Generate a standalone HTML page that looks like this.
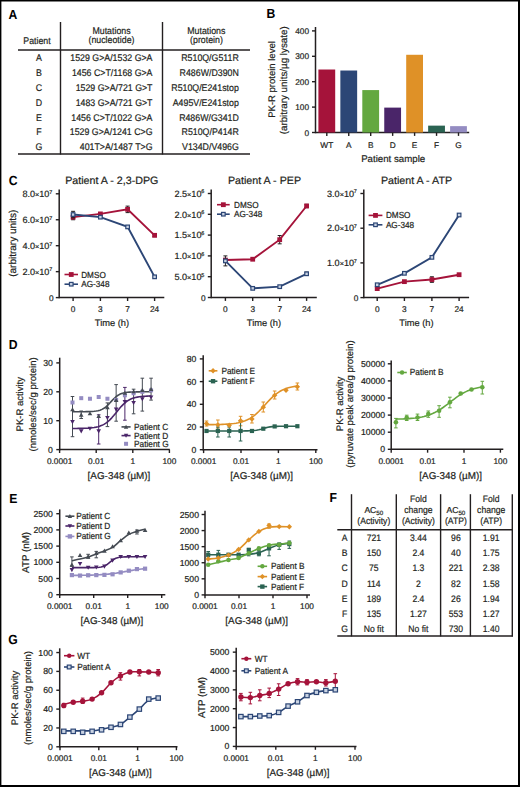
<!DOCTYPE html>
<html><head><meta charset="utf-8"><style>
html,body{margin:0;padding:0;background:#fff;width:520px;height:787px;overflow:hidden}
svg{display:block;font-family:"Liberation Sans", sans-serif}
text{stroke:#231f20;stroke-width:0.2px;paint-order:stroke;text-rendering:geometricPrecision}
</style></head><body>
<svg width="520" height="787" viewBox="0 0 520 787">
<rect x="0" y="0" width="520" height="787" fill="#000"/>
<rect x="1.4" y="1.5" width="516.60" height="783.50" fill="#fff"/>
<text x="8.60" y="18.80" font-size="13.2" font-weight="bold" textLength="8.81" lengthAdjust="spacingAndGlyphs" fill="#000" style="stroke:none">A</text>
<line x1="60.50" y1="22.00" x2="60.50" y2="154.50" stroke="#231f20" stroke-width="1.4"/>
<line x1="162.50" y1="22.00" x2="162.50" y2="154.50" stroke="#231f20" stroke-width="1.4"/>
<line x1="18.00" y1="50.00" x2="250.00" y2="50.00" stroke="#231f20" stroke-width="1.4"/>
<line x1="18.00" y1="154.00" x2="250.00" y2="154.00" stroke="#231f20" stroke-width="1.4"/>
<text x="37.00" y="43.50" font-size="9.68" text-anchor="middle" textLength="27.40" lengthAdjust="spacingAndGlyphs" fill="#231f20" >Patient</text>
<text x="111.50" y="33.80" font-size="9.68" text-anchor="middle" textLength="38.15" lengthAdjust="spacingAndGlyphs" fill="#231f20" >Mutations</text>
<text x="111.50" y="43.30" font-size="9.68" text-anchor="middle" textLength="45.98" lengthAdjust="spacingAndGlyphs" fill="#231f20" >(nucleotide)</text>
<text x="206.30" y="33.80" font-size="9.68" text-anchor="middle" textLength="38.15" lengthAdjust="spacingAndGlyphs" fill="#231f20" >Mutations</text>
<text x="206.50" y="43.30" font-size="9.68" text-anchor="middle" textLength="32.77" lengthAdjust="spacingAndGlyphs" fill="#231f20" >(protein)</text>
<text x="39.00" y="61.20" font-size="9.68" text-anchor="middle" textLength="5.87" lengthAdjust="spacingAndGlyphs" fill="#231f20" >A</text>
<text x="152.50" y="61.20" font-size="9.68" text-anchor="end" textLength="82.20" lengthAdjust="spacingAndGlyphs" fill="#231f20" >1529 G&gt;A/1532 G&gt;A</text>
<text x="238.80" y="61.20" font-size="9.68" text-anchor="end" textLength="57.56" lengthAdjust="spacingAndGlyphs" fill="#231f20" >R510Q/G511R</text>
<text x="39.00" y="76.03" font-size="9.68" text-anchor="middle" textLength="5.87" lengthAdjust="spacingAndGlyphs" fill="#231f20" >B</text>
<text x="152.50" y="76.03" font-size="9.68" text-anchor="end" textLength="80.56" lengthAdjust="spacingAndGlyphs" fill="#231f20" >1456 C&gt;T/1168 G&gt;A</text>
<text x="238.80" y="76.03" font-size="9.68" text-anchor="end" textLength="59.18" lengthAdjust="spacingAndGlyphs" fill="#231f20" >R486W/D390N</text>
<text x="39.00" y="90.86" font-size="9.68" text-anchor="middle" textLength="6.36" lengthAdjust="spacingAndGlyphs" fill="#231f20" >C</text>
<text x="152.50" y="90.86" font-size="9.68" text-anchor="end" textLength="76.81" lengthAdjust="spacingAndGlyphs" fill="#231f20" >1529 G&gt;A/721 G&gt;T</text>
<text x="238.80" y="90.86" font-size="9.68" text-anchor="end" textLength="67.51" lengthAdjust="spacingAndGlyphs" fill="#231f20" >R510Q/E241stop</text>
<text x="39.00" y="105.69" font-size="9.68" text-anchor="middle" textLength="6.36" lengthAdjust="spacingAndGlyphs" fill="#231f20" >D</text>
<text x="152.50" y="105.69" font-size="9.68" text-anchor="end" textLength="76.81" lengthAdjust="spacingAndGlyphs" fill="#231f20" >1483 G&gt;A/721 G&gt;T</text>
<text x="238.80" y="105.69" font-size="9.68" text-anchor="end" textLength="66.05" lengthAdjust="spacingAndGlyphs" fill="#231f20" >A495V/E241stop</text>
<text x="39.00" y="120.52" font-size="9.68" text-anchor="middle" textLength="5.87" lengthAdjust="spacingAndGlyphs" fill="#231f20" >E</text>
<text x="152.50" y="120.52" font-size="9.68" text-anchor="end" textLength="81.21" lengthAdjust="spacingAndGlyphs" fill="#231f20" >1456 C&gt;T/1022 G&gt;A</text>
<text x="238.80" y="120.52" font-size="9.68" text-anchor="end" textLength="59.67" lengthAdjust="spacingAndGlyphs" fill="#231f20" >R486W/G341D</text>
<text x="39.00" y="135.35" font-size="9.68" text-anchor="middle" textLength="5.38" lengthAdjust="spacingAndGlyphs" fill="#231f20" >F</text>
<text x="152.50" y="135.35" font-size="9.68" text-anchor="end" textLength="82.68" lengthAdjust="spacingAndGlyphs" fill="#231f20" >1529 G&gt;A/1241 C&gt;G</text>
<text x="238.80" y="135.35" font-size="9.68" text-anchor="end" textLength="57.24" lengthAdjust="spacingAndGlyphs" fill="#231f20" >R510Q/P414R</text>
<text x="39.00" y="150.18" font-size="9.68" text-anchor="middle" textLength="6.84" lengthAdjust="spacingAndGlyphs" fill="#231f20" >G</text>
<text x="152.50" y="150.18" font-size="9.68" text-anchor="end" textLength="72.73" lengthAdjust="spacingAndGlyphs" fill="#231f20" >401T&gt;A/1487 T&gt;G</text>
<text x="238.80" y="150.18" font-size="9.68" text-anchor="end" textLength="56.75" lengthAdjust="spacingAndGlyphs" fill="#231f20" >V134D/V496G</text>
<text x="266.60" y="18.20" font-size="13.2" font-weight="bold" textLength="8.81" lengthAdjust="spacingAndGlyphs" fill="#000" style="stroke:none">B</text>
<line x1="315.50" y1="27.00" x2="315.50" y2="133.25" stroke="#231f20" stroke-width="1.5"/>
<line x1="312.00" y1="132.50" x2="315.50" y2="132.50" stroke="#231f20" stroke-width="1.4"/>
<text x="309.00" y="135.50" font-size="8.3" text-anchor="end" fill="#231f20" >0</text>
<line x1="312.00" y1="107.10" x2="315.50" y2="107.10" stroke="#231f20" stroke-width="1.4"/>
<text x="309.00" y="110.10" font-size="8.3" text-anchor="end" fill="#231f20" >100</text>
<line x1="312.00" y1="81.70" x2="315.50" y2="81.70" stroke="#231f20" stroke-width="1.4"/>
<text x="309.00" y="84.70" font-size="8.3" text-anchor="end" fill="#231f20" >200</text>
<line x1="312.00" y1="56.30" x2="315.50" y2="56.30" stroke="#231f20" stroke-width="1.4"/>
<text x="309.00" y="59.30" font-size="8.3" text-anchor="end" fill="#231f20" >300</text>
<line x1="312.00" y1="30.90" x2="315.50" y2="30.90" stroke="#231f20" stroke-width="1.4"/>
<text x="309.00" y="33.90" font-size="8.3" text-anchor="end" fill="#231f20" >400</text>
<line x1="315.50" y1="132.50" x2="469.20" y2="132.50" stroke="#231f20" stroke-width="1.5"/>
<rect x="318.40" y="69.51" width="16.80" height="62.99" fill="#a5133a"/>
<line x1="326.80" y1="132.50" x2="326.80" y2="135.90" stroke="#231f20" stroke-width="1.4"/>
<text x="326.80" y="148.20" font-size="8.3" text-anchor="middle" fill="#231f20" >WT</text>
<rect x="340.35" y="70.52" width="16.80" height="61.98" fill="#2c4676"/>
<line x1="348.75" y1="132.50" x2="348.75" y2="135.90" stroke="#231f20" stroke-width="1.4"/>
<text x="348.75" y="148.20" font-size="8.3" text-anchor="middle" fill="#231f20" >A</text>
<rect x="362.30" y="90.08" width="16.80" height="42.42" fill="#64a840"/>
<line x1="370.70" y1="132.50" x2="370.70" y2="135.90" stroke="#231f20" stroke-width="1.4"/>
<text x="370.70" y="148.20" font-size="8.3" text-anchor="middle" fill="#231f20" >B</text>
<rect x="384.25" y="107.61" width="16.80" height="24.89" fill="#4a2569"/>
<line x1="392.65" y1="132.50" x2="392.65" y2="135.90" stroke="#231f20" stroke-width="1.4"/>
<text x="392.65" y="148.20" font-size="8.3" text-anchor="middle" fill="#231f20" >D</text>
<rect x="406.20" y="54.78" width="16.80" height="77.72" fill="#df9127"/>
<line x1="414.60" y1="132.50" x2="414.60" y2="135.90" stroke="#231f20" stroke-width="1.4"/>
<text x="414.60" y="148.20" font-size="8.3" text-anchor="middle" fill="#231f20" >E</text>
<rect x="428.15" y="125.64" width="16.80" height="6.86" fill="#2b6352"/>
<line x1="436.55" y1="132.50" x2="436.55" y2="135.90" stroke="#231f20" stroke-width="1.4"/>
<text x="436.55" y="148.20" font-size="8.3" text-anchor="middle" fill="#231f20" >F</text>
<rect x="450.10" y="126.15" width="16.80" height="6.35" fill="#948cc2"/>
<line x1="458.50" y1="132.50" x2="458.50" y2="135.90" stroke="#231f20" stroke-width="1.4"/>
<text x="458.50" y="148.20" font-size="8.3" text-anchor="middle" fill="#231f20" >G</text>
<text x="393.20" y="161.80" font-size="9.7" text-anchor="middle" fill="#231f20" >Patient sample</text>
<text transform="translate(275.20,79.50) rotate(-90)" font-size="9.5" text-anchor="middle" fill="#231f20">PK-R protein level</text>
<text transform="translate(287.30,80.30) rotate(-90)" font-size="9.8" text-anchor="middle" fill="#231f20">(arbitrary units/µg lysate)</text>
<text x="8.80" y="185.20" font-size="13.2" font-weight="bold" textLength="8.81" lengthAdjust="spacingAndGlyphs" fill="#000" style="stroke:none">C</text>
<line x1="59.20" y1="189.40" x2="59.20" y2="298.35" stroke="#231f20" stroke-width="1.5"/>
<line x1="55.80" y1="297.60" x2="59.20" y2="297.60" stroke="#231f20" stroke-width="1.4"/>
<text x="53.70" y="300.60" font-size="8.3" text-anchor="end" fill="#231f20" >0</text>
<line x1="55.80" y1="271.65" x2="59.20" y2="271.65" stroke="#231f20" stroke-width="1.4"/>
<text x="52.20" y="274.85" font-size="9.1" text-anchor="end" fill="#231f20">2.0<tspan font-size="7.28">×</tspan>10<tspan font-size="5.46" dy="-3.4" dx="-0.3">7</tspan></text>
<line x1="55.80" y1="245.70" x2="59.20" y2="245.70" stroke="#231f20" stroke-width="1.4"/>
<text x="52.20" y="248.90" font-size="9.1" text-anchor="end" fill="#231f20">4.0<tspan font-size="7.28">×</tspan>10<tspan font-size="5.46" dy="-3.4" dx="-0.3">7</tspan></text>
<line x1="55.80" y1="219.75" x2="59.20" y2="219.75" stroke="#231f20" stroke-width="1.4"/>
<text x="52.20" y="222.95" font-size="9.1" text-anchor="end" fill="#231f20">6.0<tspan font-size="7.28">×</tspan>10<tspan font-size="5.46" dy="-3.4" dx="-0.3">7</tspan></text>
<line x1="55.80" y1="193.80" x2="59.20" y2="193.80" stroke="#231f20" stroke-width="1.4"/>
<text x="52.20" y="197.00" font-size="9.1" text-anchor="end" fill="#231f20">8.0<tspan font-size="7.28">×</tspan>10<tspan font-size="5.46" dy="-3.4" dx="-0.3">7</tspan></text>
<line x1="59.20" y1="297.60" x2="164.30" y2="297.60" stroke="#231f20" stroke-width="1.5"/>
<line x1="73.10" y1="297.60" x2="73.10" y2="301.00" stroke="#231f20" stroke-width="1.4"/>
<text x="73.10" y="311.70" font-size="8.3" text-anchor="middle" fill="#231f20" >0</text>
<line x1="100.40" y1="297.60" x2="100.40" y2="301.00" stroke="#231f20" stroke-width="1.4"/>
<text x="100.40" y="311.70" font-size="8.3" text-anchor="middle" fill="#231f20" >3</text>
<line x1="127.60" y1="297.60" x2="127.60" y2="301.00" stroke="#231f20" stroke-width="1.4"/>
<text x="127.60" y="311.70" font-size="8.3" text-anchor="middle" fill="#231f20" >7</text>
<line x1="154.60" y1="297.60" x2="154.60" y2="301.00" stroke="#231f20" stroke-width="1.4"/>
<text x="154.60" y="311.70" font-size="8.3" text-anchor="middle" fill="#231f20" >24</text>
<text x="112.00" y="326.00" font-size="9.3" text-anchor="middle" fill="#231f20" >Time (h)</text>
<text x="111.80" y="183.60" font-size="10.7" text-anchor="middle" fill="#231f20" >Patient A - 2,3-DPG</text>
<text transform="translate(15.90,243.20) rotate(-90)" font-size="10.0" text-anchor="middle" fill="#231f20">(arbitrary units)</text>
<polyline points="73.10,217.16 100.40,213.91 127.60,209.37 154.60,235.32" fill="none" stroke="#a5133a" stroke-width="1.9"/>
<line x1="73.10" y1="214.56" x2="73.10" y2="219.75" stroke="#231f20" stroke-width="1.0"/>
<line x1="71.10" y1="214.56" x2="75.10" y2="214.56" stroke="#231f20" stroke-width="1.0"/>
<line x1="71.10" y1="219.75" x2="75.10" y2="219.75" stroke="#231f20" stroke-width="1.0"/>
<line x1="127.60" y1="206.13" x2="127.60" y2="212.61" stroke="#231f20" stroke-width="1.0"/>
<line x1="125.60" y1="206.13" x2="129.60" y2="206.13" stroke="#231f20" stroke-width="1.0"/>
<line x1="125.60" y1="212.61" x2="129.60" y2="212.61" stroke="#231f20" stroke-width="1.0"/>
<line x1="154.60" y1="234.02" x2="154.60" y2="236.62" stroke="#231f20" stroke-width="1.0"/>
<line x1="152.60" y1="234.02" x2="156.60" y2="234.02" stroke="#231f20" stroke-width="1.0"/>
<line x1="152.60" y1="236.62" x2="156.60" y2="236.62" stroke="#231f20" stroke-width="1.0"/>
<rect x="70.70" y="214.76" width="4.80" height="4.80" fill="#a5133a"/>
<rect x="98.00" y="211.51" width="4.80" height="4.80" fill="#a5133a"/>
<rect x="125.20" y="206.97" width="4.80" height="4.80" fill="#a5133a"/>
<rect x="152.20" y="232.92" width="4.80" height="4.80" fill="#a5133a"/>
<polyline points="73.10,214.56 100.40,217.16 127.60,226.89 154.60,276.84" fill="none" stroke="#2c4676" stroke-width="1.9"/>
<line x1="73.10" y1="211.32" x2="73.10" y2="217.80" stroke="#231f20" stroke-width="1.0"/>
<line x1="71.10" y1="211.32" x2="75.10" y2="211.32" stroke="#231f20" stroke-width="1.0"/>
<line x1="71.10" y1="217.80" x2="75.10" y2="217.80" stroke="#231f20" stroke-width="1.0"/>
<rect x="71.30" y="212.76" width="3.60" height="3.60" fill="#c9d3e3" stroke="#2c4676" stroke-width="1.2"/>
<rect x="98.60" y="215.36" width="3.60" height="3.60" fill="#c9d3e3" stroke="#2c4676" stroke-width="1.2"/>
<rect x="125.80" y="225.09" width="3.60" height="3.60" fill="#c9d3e3" stroke="#2c4676" stroke-width="1.2"/>
<rect x="152.80" y="275.04" width="3.60" height="3.60" fill="#c9d3e3" stroke="#2c4676" stroke-width="1.2"/>
<line x1="64.50" y1="274.50" x2="78.00" y2="274.50" stroke="#a5133a" stroke-width="1.6"/>
<rect x="68.85" y="272.10" width="4.80" height="4.80" fill="#a5133a"/>
<text x="81.20" y="277.50" font-size="8.77" text-anchor="start" textLength="24.60" lengthAdjust="spacingAndGlyphs" fill="#231f20" >DMSO</text>
<line x1="64.50" y1="284.20" x2="78.00" y2="284.20" stroke="#2c4676" stroke-width="1.6"/>
<rect x="69.45" y="282.40" width="3.60" height="3.60" fill="#c9d3e3" stroke="#2c4676" stroke-width="1.2"/>
<text x="81.20" y="287.20" font-size="8.77" text-anchor="start" textLength="28.26" lengthAdjust="spacingAndGlyphs" fill="#231f20" >AG-348</text>
<line x1="211.20" y1="189.40" x2="211.20" y2="298.25" stroke="#231f20" stroke-width="1.5"/>
<line x1="207.80" y1="297.50" x2="211.20" y2="297.50" stroke="#231f20" stroke-width="1.4"/>
<text x="205.70" y="300.50" font-size="8.3" text-anchor="end" fill="#231f20" >0</text>
<line x1="207.80" y1="276.70" x2="211.20" y2="276.70" stroke="#231f20" stroke-width="1.4"/>
<text x="204.20" y="279.90" font-size="9.1" text-anchor="end" fill="#231f20">5.0<tspan font-size="7.28">×</tspan>10<tspan font-size="5.46" dy="-3.4" dx="-0.3">5</tspan></text>
<line x1="207.80" y1="255.90" x2="211.20" y2="255.90" stroke="#231f20" stroke-width="1.4"/>
<text x="204.20" y="259.10" font-size="9.1" text-anchor="end" fill="#231f20">1.0<tspan font-size="7.28">×</tspan>10<tspan font-size="5.46" dy="-3.4" dx="-0.3">6</tspan></text>
<line x1="207.80" y1="235.10" x2="211.20" y2="235.10" stroke="#231f20" stroke-width="1.4"/>
<text x="204.20" y="238.30" font-size="9.1" text-anchor="end" fill="#231f20">1.5<tspan font-size="7.28">×</tspan>10<tspan font-size="5.46" dy="-3.4" dx="-0.3">6</tspan></text>
<line x1="207.80" y1="214.30" x2="211.20" y2="214.30" stroke="#231f20" stroke-width="1.4"/>
<text x="204.20" y="217.50" font-size="9.1" text-anchor="end" fill="#231f20">2.0<tspan font-size="7.28">×</tspan>10<tspan font-size="5.46" dy="-3.4" dx="-0.3">6</tspan></text>
<line x1="207.80" y1="193.50" x2="211.20" y2="193.50" stroke="#231f20" stroke-width="1.4"/>
<text x="204.20" y="196.70" font-size="9.1" text-anchor="end" fill="#231f20">2.5<tspan font-size="7.28">×</tspan>10<tspan font-size="5.46" dy="-3.4" dx="-0.3">6</tspan></text>
<line x1="211.20" y1="297.50" x2="316.80" y2="297.50" stroke="#231f20" stroke-width="1.5"/>
<line x1="225.40" y1="297.50" x2="225.40" y2="300.90" stroke="#231f20" stroke-width="1.4"/>
<text x="225.40" y="311.70" font-size="8.3" text-anchor="middle" fill="#231f20" >0</text>
<line x1="252.70" y1="297.50" x2="252.70" y2="300.90" stroke="#231f20" stroke-width="1.4"/>
<text x="252.70" y="311.70" font-size="8.3" text-anchor="middle" fill="#231f20" >3</text>
<line x1="279.70" y1="297.50" x2="279.70" y2="300.90" stroke="#231f20" stroke-width="1.4"/>
<text x="279.70" y="311.70" font-size="8.3" text-anchor="middle" fill="#231f20" >7</text>
<line x1="306.60" y1="297.50" x2="306.60" y2="300.90" stroke="#231f20" stroke-width="1.4"/>
<text x="306.60" y="311.70" font-size="8.3" text-anchor="middle" fill="#231f20" >24</text>
<text x="264.00" y="326.00" font-size="9.3" text-anchor="middle" fill="#231f20" >Time (h)</text>
<text x="264.50" y="183.60" font-size="10.7" text-anchor="middle" fill="#231f20" >Patient A - PEP</text>
<polyline points="225.40,260.06 252.70,259.23 279.70,239.68 306.60,205.98" fill="none" stroke="#a5133a" stroke-width="1.9"/>
<line x1="279.70" y1="235.52" x2="279.70" y2="243.84" stroke="#231f20" stroke-width="1.0"/>
<line x1="277.70" y1="235.52" x2="281.70" y2="235.52" stroke="#231f20" stroke-width="1.0"/>
<line x1="277.70" y1="243.84" x2="281.70" y2="243.84" stroke="#231f20" stroke-width="1.0"/>
<line x1="306.60" y1="204.32" x2="306.60" y2="207.64" stroke="#231f20" stroke-width="1.0"/>
<line x1="304.60" y1="204.32" x2="308.60" y2="204.32" stroke="#231f20" stroke-width="1.0"/>
<line x1="304.60" y1="207.64" x2="308.60" y2="207.64" stroke="#231f20" stroke-width="1.0"/>
<rect x="223.00" y="257.66" width="4.80" height="4.80" fill="#a5133a"/>
<rect x="250.30" y="256.83" width="4.80" height="4.80" fill="#a5133a"/>
<rect x="277.30" y="237.28" width="4.80" height="4.80" fill="#a5133a"/>
<rect x="304.20" y="203.58" width="4.80" height="4.80" fill="#a5133a"/>
<polyline points="225.40,260.89 252.70,288.35 279.70,286.68 306.60,273.79" fill="none" stroke="#2c4676" stroke-width="1.9"/>
<line x1="225.40" y1="255.90" x2="225.40" y2="265.88" stroke="#231f20" stroke-width="1.0"/>
<line x1="223.40" y1="255.90" x2="227.40" y2="255.90" stroke="#231f20" stroke-width="1.0"/>
<line x1="223.40" y1="265.88" x2="227.40" y2="265.88" stroke="#231f20" stroke-width="1.0"/>
<line x1="306.60" y1="272.12" x2="306.60" y2="275.45" stroke="#231f20" stroke-width="1.0"/>
<line x1="304.60" y1="272.12" x2="308.60" y2="272.12" stroke="#231f20" stroke-width="1.0"/>
<line x1="304.60" y1="275.45" x2="308.60" y2="275.45" stroke="#231f20" stroke-width="1.0"/>
<rect x="223.60" y="259.09" width="3.60" height="3.60" fill="#c9d3e3" stroke="#2c4676" stroke-width="1.2"/>
<rect x="250.90" y="286.55" width="3.60" height="3.60" fill="#c9d3e3" stroke="#2c4676" stroke-width="1.2"/>
<rect x="277.90" y="284.88" width="3.60" height="3.60" fill="#c9d3e3" stroke="#2c4676" stroke-width="1.2"/>
<rect x="304.80" y="271.99" width="3.60" height="3.60" fill="#c9d3e3" stroke="#2c4676" stroke-width="1.2"/>
<line x1="217.00" y1="204.70" x2="229.70" y2="204.70" stroke="#a5133a" stroke-width="1.6"/>
<rect x="220.95" y="202.30" width="4.80" height="4.80" fill="#a5133a"/>
<text x="234.00" y="207.70" font-size="8.77" text-anchor="start" textLength="24.60" lengthAdjust="spacingAndGlyphs" fill="#231f20" >DMSO</text>
<line x1="217.00" y1="214.20" x2="229.70" y2="214.20" stroke="#2c4676" stroke-width="1.6"/>
<rect x="221.55" y="212.40" width="3.60" height="3.60" fill="#c9d3e3" stroke="#2c4676" stroke-width="1.2"/>
<text x="234.00" y="217.20" font-size="8.77" text-anchor="start" textLength="28.26" lengthAdjust="spacingAndGlyphs" fill="#231f20" >AG-348</text>
<line x1="363.80" y1="189.40" x2="363.80" y2="298.35" stroke="#231f20" stroke-width="1.5"/>
<line x1="360.40" y1="297.60" x2="363.80" y2="297.60" stroke="#231f20" stroke-width="1.4"/>
<text x="358.30" y="300.60" font-size="8.3" text-anchor="end" fill="#231f20" >0</text>
<line x1="360.40" y1="262.90" x2="363.80" y2="262.90" stroke="#231f20" stroke-width="1.4"/>
<text x="356.80" y="266.10" font-size="9.1" text-anchor="end" fill="#231f20">1.0<tspan font-size="7.28">×</tspan>10<tspan font-size="5.46" dy="-3.4" dx="-0.3">7</tspan></text>
<line x1="360.40" y1="228.20" x2="363.80" y2="228.20" stroke="#231f20" stroke-width="1.4"/>
<text x="356.80" y="231.40" font-size="9.1" text-anchor="end" fill="#231f20">2.0<tspan font-size="7.28">×</tspan>10<tspan font-size="5.46" dy="-3.4" dx="-0.3">7</tspan></text>
<line x1="360.40" y1="193.50" x2="363.80" y2="193.50" stroke="#231f20" stroke-width="1.4"/>
<text x="356.80" y="196.70" font-size="9.1" text-anchor="end" fill="#231f20">3.0<tspan font-size="7.28">×</tspan>10<tspan font-size="5.46" dy="-3.4" dx="-0.3">7</tspan></text>
<line x1="363.80" y1="297.60" x2="469.10" y2="297.60" stroke="#231f20" stroke-width="1.5"/>
<line x1="377.20" y1="297.60" x2="377.20" y2="301.00" stroke="#231f20" stroke-width="1.4"/>
<text x="377.20" y="311.70" font-size="8.3" text-anchor="middle" fill="#231f20" >0</text>
<line x1="404.40" y1="297.60" x2="404.40" y2="301.00" stroke="#231f20" stroke-width="1.4"/>
<text x="404.40" y="311.70" font-size="8.3" text-anchor="middle" fill="#231f20" >3</text>
<line x1="431.90" y1="297.60" x2="431.90" y2="301.00" stroke="#231f20" stroke-width="1.4"/>
<text x="431.90" y="311.70" font-size="8.3" text-anchor="middle" fill="#231f20" >7</text>
<line x1="459.10" y1="297.60" x2="459.10" y2="301.00" stroke="#231f20" stroke-width="1.4"/>
<text x="459.10" y="311.70" font-size="8.3" text-anchor="middle" fill="#231f20" >24</text>
<text x="416.50" y="326.00" font-size="9.3" text-anchor="middle" fill="#231f20" >Time (h)</text>
<text x="416.50" y="183.60" font-size="10.7" text-anchor="middle" fill="#231f20" >Patient A - ATP</text>
<polyline points="377.20,288.58 404.40,281.64 431.90,279.56 459.10,274.70" fill="none" stroke="#a5133a" stroke-width="1.9"/>
<line x1="377.20" y1="286.84" x2="377.20" y2="290.31" stroke="#231f20" stroke-width="1.0"/>
<line x1="375.20" y1="286.84" x2="379.20" y2="286.84" stroke="#231f20" stroke-width="1.0"/>
<line x1="375.20" y1="290.31" x2="379.20" y2="290.31" stroke="#231f20" stroke-width="1.0"/>
<line x1="431.90" y1="276.78" x2="431.90" y2="282.33" stroke="#231f20" stroke-width="1.0"/>
<line x1="429.90" y1="276.78" x2="433.90" y2="276.78" stroke="#231f20" stroke-width="1.0"/>
<line x1="429.90" y1="282.33" x2="433.90" y2="282.33" stroke="#231f20" stroke-width="1.0"/>
<rect x="374.80" y="286.18" width="4.80" height="4.80" fill="#a5133a"/>
<rect x="402.00" y="279.24" width="4.80" height="4.80" fill="#a5133a"/>
<rect x="429.50" y="277.16" width="4.80" height="4.80" fill="#a5133a"/>
<rect x="456.70" y="272.30" width="4.80" height="4.80" fill="#a5133a"/>
<polyline points="377.20,284.76 404.40,273.31 431.90,257.35 459.10,215.01" fill="none" stroke="#2c4676" stroke-width="1.9"/>
<rect x="375.40" y="282.96" width="3.60" height="3.60" fill="#c9d3e3" stroke="#2c4676" stroke-width="1.2"/>
<rect x="402.60" y="271.51" width="3.60" height="3.60" fill="#c9d3e3" stroke="#2c4676" stroke-width="1.2"/>
<rect x="430.10" y="255.55" width="3.60" height="3.60" fill="#c9d3e3" stroke="#2c4676" stroke-width="1.2"/>
<rect x="457.30" y="213.21" width="3.60" height="3.60" fill="#c9d3e3" stroke="#2c4676" stroke-width="1.2"/>
<line x1="368.60" y1="215.40" x2="382.40" y2="215.40" stroke="#a5133a" stroke-width="1.6"/>
<rect x="373.10" y="213.00" width="4.80" height="4.80" fill="#a5133a"/>
<text x="385.90" y="218.40" font-size="8.77" text-anchor="start" textLength="24.60" lengthAdjust="spacingAndGlyphs" fill="#231f20" >DMSO</text>
<line x1="368.60" y1="224.80" x2="382.40" y2="224.80" stroke="#2c4676" stroke-width="1.6"/>
<rect x="373.70" y="223.00" width="3.60" height="3.60" fill="#c9d3e3" stroke="#2c4676" stroke-width="1.2"/>
<text x="385.90" y="227.80" font-size="8.77" text-anchor="start" textLength="28.26" lengthAdjust="spacingAndGlyphs" fill="#231f20" >AG-348</text>
<text x="8.70" y="349.40" font-size="13.2" font-weight="bold" textLength="8.81" lengthAdjust="spacingAndGlyphs" fill="#000" style="stroke:none">D</text>
<line x1="59.70" y1="357.70" x2="59.70" y2="450.35" stroke="#231f20" stroke-width="1.5"/>
<line x1="56.30" y1="449.60" x2="59.70" y2="449.60" stroke="#231f20" stroke-width="1.4"/>
<text x="52.80" y="452.60" font-size="8.7" text-anchor="end" fill="#231f20" >0</text>
<line x1="56.30" y1="420.70" x2="59.70" y2="420.70" stroke="#231f20" stroke-width="1.4"/>
<text x="52.80" y="423.70" font-size="8.7" text-anchor="end" fill="#231f20" >10</text>
<line x1="56.30" y1="391.80" x2="59.70" y2="391.80" stroke="#231f20" stroke-width="1.4"/>
<text x="52.80" y="394.80" font-size="8.7" text-anchor="end" fill="#231f20" >20</text>
<line x1="56.30" y1="362.90" x2="59.70" y2="362.90" stroke="#231f20" stroke-width="1.4"/>
<text x="52.80" y="365.90" font-size="8.7" text-anchor="end" fill="#231f20" >30</text>
<line x1="59.70" y1="449.60" x2="169.80" y2="449.60" stroke="#231f20" stroke-width="1.5"/>
<line x1="59.60" y1="449.60" x2="59.60" y2="453.00" stroke="#231f20" stroke-width="1.4"/>
<text x="59.60" y="464.20" font-size="8.3" text-anchor="middle" fill="#231f20" >0.0001</text>
<line x1="96.20" y1="449.60" x2="96.20" y2="453.00" stroke="#231f20" stroke-width="1.4"/>
<text x="96.20" y="464.20" font-size="8.3" text-anchor="middle" fill="#231f20" >0.01</text>
<line x1="132.80" y1="449.60" x2="132.80" y2="453.00" stroke="#231f20" stroke-width="1.4"/>
<text x="132.80" y="464.20" font-size="8.3" text-anchor="middle" fill="#231f20" >1</text>
<line x1="169.40" y1="449.60" x2="169.40" y2="453.00" stroke="#231f20" stroke-width="1.4"/>
<text x="169.40" y="464.20" font-size="8.3" text-anchor="middle" fill="#231f20" >100</text>
<text x="119.00" y="478.60" font-size="9.9" text-anchor="middle" fill="#231f20" >[AG-348 (µM)]</text>
<text transform="translate(23.20,404.20) rotate(-90)" font-size="9.5" text-anchor="middle" fill="#231f20">PK-R activity</text>
<text transform="translate(36.20,404.40) rotate(-90)" font-size="9.5" text-anchor="middle" fill="#231f20">(nmoles/sec/g protein)</text>
<line x1="72.50" y1="396.50" x2="72.50" y2="436.70" stroke="#454b53" stroke-width="1.0"/>
<line x1="70.70" y1="396.50" x2="74.30" y2="396.50" stroke="#454b53" stroke-width="1.0"/>
<line x1="70.70" y1="436.70" x2="74.30" y2="436.70" stroke="#454b53" stroke-width="1.0"/>
<line x1="81.23" y1="411.00" x2="81.23" y2="418.50" stroke="#454b53" stroke-width="1.0"/>
<line x1="79.43" y1="411.00" x2="83.03" y2="411.00" stroke="#454b53" stroke-width="1.0"/>
<line x1="79.43" y1="418.50" x2="83.03" y2="418.50" stroke="#454b53" stroke-width="1.0"/>
<line x1="98.69" y1="414.80" x2="98.69" y2="444.00" stroke="#4a2569" stroke-width="1.0"/>
<line x1="96.89" y1="414.80" x2="100.49" y2="414.80" stroke="#4a2569" stroke-width="1.0"/>
<line x1="96.89" y1="444.00" x2="100.49" y2="444.00" stroke="#4a2569" stroke-width="1.0"/>
<line x1="107.42" y1="402.90" x2="107.42" y2="426.60" stroke="#454b53" stroke-width="1.0"/>
<line x1="105.62" y1="402.90" x2="109.22" y2="402.90" stroke="#454b53" stroke-width="1.0"/>
<line x1="105.62" y1="426.60" x2="109.22" y2="426.60" stroke="#454b53" stroke-width="1.0"/>
<line x1="116.15" y1="384.60" x2="116.15" y2="421.20" stroke="#454b53" stroke-width="1.0"/>
<line x1="114.35" y1="384.60" x2="117.95" y2="384.60" stroke="#454b53" stroke-width="1.0"/>
<line x1="114.35" y1="421.20" x2="117.95" y2="421.20" stroke="#454b53" stroke-width="1.0"/>
<line x1="124.88" y1="387.40" x2="124.88" y2="420.20" stroke="#4a2569" stroke-width="1.0"/>
<line x1="123.08" y1="387.40" x2="126.68" y2="387.40" stroke="#4a2569" stroke-width="1.0"/>
<line x1="123.08" y1="420.20" x2="126.68" y2="420.20" stroke="#4a2569" stroke-width="1.0"/>
<line x1="133.61" y1="389.20" x2="133.61" y2="413.80" stroke="#454b53" stroke-width="1.0"/>
<line x1="131.81" y1="389.20" x2="135.41" y2="389.20" stroke="#454b53" stroke-width="1.0"/>
<line x1="131.81" y1="413.80" x2="135.41" y2="413.80" stroke="#454b53" stroke-width="1.0"/>
<line x1="142.34" y1="378.20" x2="142.34" y2="411.10" stroke="#454b53" stroke-width="1.0"/>
<line x1="140.54" y1="378.20" x2="144.14" y2="378.20" stroke="#454b53" stroke-width="1.0"/>
<line x1="140.54" y1="411.10" x2="144.14" y2="411.10" stroke="#454b53" stroke-width="1.0"/>
<line x1="151.07" y1="378.20" x2="151.07" y2="400.10" stroke="#454b53" stroke-width="1.0"/>
<line x1="149.27" y1="378.20" x2="152.87" y2="378.20" stroke="#454b53" stroke-width="1.0"/>
<line x1="149.27" y1="400.10" x2="152.87" y2="400.10" stroke="#454b53" stroke-width="1.0"/>
<polyline points="72.50,411.74 74.46,411.74 76.43,411.73 78.39,411.73 80.36,411.72 82.32,411.71 84.29,411.69 86.25,411.66 88.21,411.62 90.18,411.55 92.14,411.44 94.11,411.28 96.07,411.04 98.04,410.68 100.00,410.15 101.96,409.38 103.93,408.31 105.89,406.89 107.86,405.12 109.82,403.07 111.78,400.90 113.75,398.82 115.71,396.98 117.68,395.49 119.64,394.35 121.61,393.53 123.57,392.95 125.53,392.56 127.50,392.30 129.46,392.12 131.43,392.01 133.39,391.94 135.36,391.89 137.32,391.86 139.28,391.84 141.25,391.82 143.21,391.82 145.18,391.81 147.14,391.81 149.11,391.80 151.07,391.80" fill="none" stroke="#454b53" stroke-width="1.6" stroke-linejoin="round"/>
<polyline points="72.50,428.47 74.46,428.45 76.43,428.43 78.39,428.41 80.36,428.38 82.32,428.33 84.29,428.27 86.25,428.19 88.21,428.09 90.18,427.94 92.14,427.75 94.11,427.49 96.07,427.15 98.04,426.70 100.00,426.11 101.96,425.35 103.93,424.38 105.89,423.16 107.86,421.67 109.82,419.90 111.78,417.85 113.75,415.58 115.71,413.16 117.68,410.70 119.64,408.30 121.61,406.07 123.57,404.08 125.53,402.36 127.50,400.92 129.46,399.76 131.43,398.83 133.39,398.11 135.36,397.55 137.32,397.12 139.28,396.80 141.25,396.56 143.21,396.37 145.18,396.24 147.14,396.14 149.11,396.06 151.07,396.01" fill="none" stroke="#4a2569" stroke-width="1.6" stroke-linejoin="round"/>
<rect x="70.50" y="400.49" width="4.00" height="4.00" fill="#948cc2"/>
<rect x="79.23" y="396.16" width="4.00" height="4.00" fill="#948cc2"/>
<rect x="87.96" y="396.74" width="4.00" height="4.00" fill="#948cc2"/>
<rect x="96.69" y="395.00" width="4.00" height="4.00" fill="#948cc2"/>
<rect x="105.42" y="396.74" width="4.00" height="4.00" fill="#948cc2"/>
<rect x="114.15" y="397.89" width="4.00" height="4.00" fill="#948cc2"/>
<rect x="122.88" y="393.27" width="4.00" height="4.00" fill="#948cc2"/>
<rect x="131.61" y="391.25" width="4.00" height="4.00" fill="#948cc2"/>
<rect x="140.34" y="389.80" width="4.00" height="4.00" fill="#948cc2"/>
<rect x="149.07" y="388.36" width="4.00" height="4.00" fill="#948cc2"/>
<path d="M72.50,407.13 L74.80,411.27 L70.20,411.27 Z" fill="#454b53"/>
<path d="M81.23,412.62 L83.53,416.76 L78.93,416.76 Z" fill="#454b53"/>
<path d="M89.96,411.18 L92.26,415.31 L87.66,415.31 Z" fill="#454b53"/>
<path d="M98.69,413.78 L100.99,417.92 L96.39,417.92 Z" fill="#454b53"/>
<path d="M107.42,405.11 L109.72,409.25 L105.12,409.25 Z" fill="#454b53"/>
<path d="M116.15,397.88 L118.45,402.02 L113.85,402.02 Z" fill="#454b53"/>
<path d="M124.88,390.66 L127.18,394.80 L122.58,394.80 Z" fill="#454b53"/>
<path d="M133.61,389.21 L135.91,393.35 L131.31,393.35 Z" fill="#454b53"/>
<path d="M142.34,387.77 L144.64,391.91 L140.04,391.91 Z" fill="#454b53"/>
<path d="M151.07,386.90 L153.37,391.04 L148.77,391.04 Z" fill="#454b53"/>
<path d="M72.50,424.16 L74.80,420.02 L70.20,420.02 Z" fill="#4a2569"/>
<path d="M81.23,433.40 L83.53,429.26 L78.93,429.26 Z" fill="#4a2569"/>
<path d="M89.96,430.80 L92.26,426.66 L87.66,426.66 Z" fill="#4a2569"/>
<path d="M98.69,433.40 L100.99,429.26 L96.39,429.26 Z" fill="#4a2569"/>
<path d="M107.42,420.11 L109.72,415.97 L105.12,415.97 Z" fill="#4a2569"/>
<path d="M116.15,411.73 L118.45,407.59 L113.85,407.59 Z" fill="#4a2569"/>
<path d="M124.88,404.22 L127.18,400.08 L122.58,400.08 Z" fill="#4a2569"/>
<path d="M133.61,405.08 L135.91,400.94 L131.31,400.94 Z" fill="#4a2569"/>
<path d="M142.34,401.33 L144.64,397.19 L140.04,397.19 Z" fill="#4a2569"/>
<path d="M151.07,399.59 L153.37,395.45 L148.77,395.45 Z" fill="#4a2569"/>
<line x1="121.50" y1="426.90" x2="130.60" y2="426.90" stroke="#454b53" stroke-width="1.6"/>
<path d="M126.05,424.70 L128.25,428.66 L123.85,428.66 Z" fill="#454b53"/>
<text x="134.00" y="429.80" font-size="8.88" text-anchor="start" textLength="34.14" lengthAdjust="spacingAndGlyphs" fill="#231f20" >Patient C</text>
<line x1="121.50" y1="435.60" x2="130.60" y2="435.60" stroke="#4a2569" stroke-width="1.6"/>
<path d="M126.05,437.80 L128.25,433.84 L123.85,433.84 Z" fill="#4a2569"/>
<text x="134.00" y="438.50" font-size="8.88" text-anchor="start" textLength="34.14" lengthAdjust="spacingAndGlyphs" fill="#231f20" >Patient D</text>
<rect x="124.05" y="441.80" width="4.00" height="4.00" fill="#948cc2"/>
<text x="134.00" y="446.70" font-size="8.88" text-anchor="start" textLength="34.60" lengthAdjust="spacingAndGlyphs" fill="#231f20" >Patient G</text>
<line x1="203.20" y1="355.20" x2="203.20" y2="450.45" stroke="#231f20" stroke-width="1.5"/>
<line x1="199.80" y1="449.70" x2="203.20" y2="449.70" stroke="#231f20" stroke-width="1.4"/>
<text x="196.30" y="452.70" font-size="8.7" text-anchor="end" fill="#231f20" >0</text>
<line x1="199.80" y1="427.00" x2="203.20" y2="427.00" stroke="#231f20" stroke-width="1.4"/>
<text x="196.30" y="430.00" font-size="8.7" text-anchor="end" fill="#231f20" >20</text>
<line x1="199.80" y1="404.30" x2="203.20" y2="404.30" stroke="#231f20" stroke-width="1.4"/>
<text x="196.30" y="407.30" font-size="8.7" text-anchor="end" fill="#231f20" >40</text>
<line x1="199.80" y1="381.60" x2="203.20" y2="381.60" stroke="#231f20" stroke-width="1.4"/>
<text x="196.30" y="384.60" font-size="8.7" text-anchor="end" fill="#231f20" >60</text>
<line x1="199.80" y1="358.90" x2="203.20" y2="358.90" stroke="#231f20" stroke-width="1.4"/>
<text x="196.30" y="361.90" font-size="8.7" text-anchor="end" fill="#231f20" >80</text>
<line x1="203.20" y1="449.70" x2="317.50" y2="449.70" stroke="#231f20" stroke-width="1.5"/>
<line x1="203.60" y1="449.70" x2="203.60" y2="453.10" stroke="#231f20" stroke-width="1.4"/>
<text x="203.60" y="464.30" font-size="8.3" text-anchor="middle" fill="#231f20" >0.0001</text>
<line x1="241.00" y1="449.70" x2="241.00" y2="453.10" stroke="#231f20" stroke-width="1.4"/>
<text x="241.00" y="464.30" font-size="8.3" text-anchor="middle" fill="#231f20" >0.01</text>
<line x1="278.40" y1="449.70" x2="278.40" y2="453.10" stroke="#231f20" stroke-width="1.4"/>
<text x="278.40" y="464.30" font-size="8.3" text-anchor="middle" fill="#231f20" >1</text>
<line x1="315.80" y1="449.70" x2="315.80" y2="453.10" stroke="#231f20" stroke-width="1.4"/>
<text x="315.80" y="464.30" font-size="8.3" text-anchor="middle" fill="#231f20" >100</text>
<text x="261.70" y="478.60" font-size="9.9" text-anchor="middle" fill="#231f20" >[AG-348 (µM)]</text>
<line x1="206.50" y1="421.00" x2="206.50" y2="426.00" stroke="#df9127" stroke-width="1.0"/>
<line x1="204.70" y1="421.00" x2="208.30" y2="421.00" stroke="#df9127" stroke-width="1.0"/>
<line x1="204.70" y1="426.00" x2="208.30" y2="426.00" stroke="#df9127" stroke-width="1.0"/>
<line x1="217.86" y1="420.00" x2="217.86" y2="428.00" stroke="#df9127" stroke-width="1.0"/>
<line x1="216.06" y1="420.00" x2="219.66" y2="420.00" stroke="#df9127" stroke-width="1.0"/>
<line x1="216.06" y1="428.00" x2="219.66" y2="428.00" stroke="#df9127" stroke-width="1.0"/>
<line x1="240.58" y1="416.30" x2="240.58" y2="425.80" stroke="#df9127" stroke-width="1.0"/>
<line x1="238.78" y1="416.30" x2="242.38" y2="416.30" stroke="#df9127" stroke-width="1.0"/>
<line x1="238.78" y1="425.80" x2="242.38" y2="425.80" stroke="#df9127" stroke-width="1.0"/>
<line x1="251.94" y1="414.50" x2="251.94" y2="423.00" stroke="#df9127" stroke-width="1.0"/>
<line x1="250.14" y1="414.50" x2="253.74" y2="414.50" stroke="#df9127" stroke-width="1.0"/>
<line x1="250.14" y1="423.00" x2="253.74" y2="423.00" stroke="#df9127" stroke-width="1.0"/>
<line x1="263.30" y1="402.00" x2="263.30" y2="412.00" stroke="#df9127" stroke-width="1.0"/>
<line x1="261.50" y1="402.00" x2="265.10" y2="402.00" stroke="#df9127" stroke-width="1.0"/>
<line x1="261.50" y1="412.00" x2="265.10" y2="412.00" stroke="#df9127" stroke-width="1.0"/>
<line x1="274.66" y1="391.00" x2="274.66" y2="399.00" stroke="#df9127" stroke-width="1.0"/>
<line x1="272.86" y1="391.00" x2="276.46" y2="391.00" stroke="#df9127" stroke-width="1.0"/>
<line x1="272.86" y1="399.00" x2="276.46" y2="399.00" stroke="#df9127" stroke-width="1.0"/>
<line x1="297.38" y1="383.00" x2="297.38" y2="390.00" stroke="#df9127" stroke-width="1.0"/>
<line x1="295.58" y1="383.00" x2="299.18" y2="383.00" stroke="#df9127" stroke-width="1.0"/>
<line x1="295.58" y1="390.00" x2="299.18" y2="390.00" stroke="#df9127" stroke-width="1.0"/>
<line x1="217.86" y1="427.00" x2="217.86" y2="437.00" stroke="#2b6352" stroke-width="1.0"/>
<line x1="216.06" y1="427.00" x2="219.66" y2="427.00" stroke="#2b6352" stroke-width="1.0"/>
<line x1="216.06" y1="437.00" x2="219.66" y2="437.00" stroke="#2b6352" stroke-width="1.0"/>
<line x1="229.22" y1="427.00" x2="229.22" y2="437.00" stroke="#2b6352" stroke-width="1.0"/>
<line x1="227.42" y1="427.00" x2="231.02" y2="427.00" stroke="#2b6352" stroke-width="1.0"/>
<line x1="227.42" y1="437.00" x2="231.02" y2="437.00" stroke="#2b6352" stroke-width="1.0"/>
<line x1="240.58" y1="421.00" x2="240.58" y2="441.00" stroke="#2b6352" stroke-width="1.0"/>
<line x1="238.78" y1="421.00" x2="242.38" y2="421.00" stroke="#2b6352" stroke-width="1.0"/>
<line x1="238.78" y1="441.00" x2="242.38" y2="441.00" stroke="#2b6352" stroke-width="1.0"/>
<polyline points="206.50,424.67 208.77,424.65 211.04,424.63 213.32,424.60 215.59,424.57 217.86,424.52 220.13,424.46 222.40,424.38 224.68,424.29 226.95,424.16 229.22,424.00 231.49,423.79 233.76,423.53 236.04,423.20 238.31,422.78 240.58,422.26 242.85,421.61 245.12,420.80 247.40,419.81 249.67,418.61 251.94,417.19 254.21,415.53 256.48,413.62 258.76,411.49 261.03,409.18 263.30,406.74 265.57,404.24 267.84,401.76 270.12,399.37 272.39,397.14 274.66,395.13 276.93,393.34 279.20,391.80 281.48,390.49 283.75,389.40 286.02,388.51 288.29,387.78 290.56,387.20 292.84,386.73 295.11,386.36 297.38,386.06" fill="none" stroke="#df9127" stroke-width="1.6" stroke-linejoin="round"/>
<polyline points="206.50,430.97 208.77,430.97 211.04,430.97 213.32,430.97 215.59,430.97 217.86,430.97 220.13,430.97 222.40,430.97 224.68,430.97 226.95,430.97 229.22,430.97 231.49,430.97 233.76,430.97 236.04,430.97 238.31,430.96 240.58,430.96 242.85,430.94 245.12,430.92 247.40,430.88 249.67,430.81 251.94,430.69 254.21,430.50 256.48,430.19 258.76,429.75 261.03,429.16 263.30,428.50 265.57,427.85 267.84,427.30 270.12,426.89 272.39,426.62 274.66,426.45 276.93,426.35 279.20,426.29 281.48,426.25 283.75,426.23 286.02,426.22 288.29,426.21 290.56,426.21 292.84,426.21 295.11,426.21 297.38,426.21" fill="none" stroke="#2b6352" stroke-width="1.6" stroke-linejoin="round"/>
<path d="M206.50,420.89 L209.20,423.59 L206.50,426.29 L203.80,423.59 Z" fill="#df9127"/>
<path d="M217.86,422.14 L220.56,424.84 L217.86,427.54 L215.16,424.84 Z" fill="#df9127"/>
<path d="M229.22,422.60 L231.92,425.30 L229.22,428.00 L226.52,425.30 Z" fill="#df9127"/>
<path d="M240.58,417.94 L243.28,420.64 L240.58,423.34 L237.88,420.64 Z" fill="#df9127"/>
<path d="M251.94,416.24 L254.64,418.94 L251.94,421.64 L249.24,418.94 Z" fill="#df9127"/>
<path d="M263.30,404.44 L266.00,407.14 L263.30,409.84 L260.60,407.14 Z" fill="#df9127"/>
<path d="M274.66,392.63 L277.36,395.33 L274.66,398.03 L271.96,395.33 Z" fill="#df9127"/>
<path d="M286.02,387.53 L288.72,390.23 L286.02,392.93 L283.32,390.23 Z" fill="#df9127"/>
<path d="M297.38,384.01 L300.08,386.71 L297.38,389.41 L294.68,386.71 Z" fill="#df9127"/>
<rect x="204.40" y="428.87" width="4.20" height="4.20" fill="#2b6352"/>
<rect x="215.76" y="428.87" width="4.20" height="4.20" fill="#2b6352"/>
<rect x="227.12" y="428.87" width="4.20" height="4.20" fill="#2b6352"/>
<rect x="238.48" y="428.87" width="4.20" height="4.20" fill="#2b6352"/>
<rect x="249.84" y="428.87" width="4.20" height="4.20" fill="#2b6352"/>
<rect x="261.20" y="426.60" width="4.20" height="4.20" fill="#2b6352"/>
<rect x="272.56" y="424.33" width="4.20" height="4.20" fill="#2b6352"/>
<rect x="283.92" y="424.11" width="4.20" height="4.20" fill="#2b6352"/>
<rect x="295.28" y="424.11" width="4.20" height="4.20" fill="#2b6352"/>
<line x1="208.70" y1="370.80" x2="217.40" y2="370.80" stroke="#df9127" stroke-width="1.6"/>
<path d="M213.05,368.10 L215.75,370.80 L213.05,373.50 L210.35,370.80 Z" fill="#df9127"/>
<text x="221.40" y="373.70" font-size="8.88" text-anchor="start" textLength="33.68" lengthAdjust="spacingAndGlyphs" fill="#231f20" >Patient E</text>
<line x1="208.70" y1="381.20" x2="217.40" y2="381.20" stroke="#2b6352" stroke-width="1.6"/>
<rect x="210.85" y="379.00" width="4.40" height="4.40" fill="#2b6352"/>
<text x="221.40" y="384.10" font-size="8.88" text-anchor="start" textLength="33.22" lengthAdjust="spacingAndGlyphs" fill="#231f20" >Patient F</text>
<line x1="391.20" y1="360.40" x2="391.20" y2="450.05" stroke="#231f20" stroke-width="1.5"/>
<line x1="387.80" y1="449.30" x2="391.20" y2="449.30" stroke="#231f20" stroke-width="1.4"/>
<text x="385.20" y="452.30" font-size="8.7" text-anchor="end" fill="#231f20" >0</text>
<line x1="387.80" y1="432.20" x2="391.20" y2="432.20" stroke="#231f20" stroke-width="1.4"/>
<text x="385.20" y="435.20" font-size="8.7" text-anchor="end" fill="#231f20" >10000</text>
<line x1="387.80" y1="415.10" x2="391.20" y2="415.10" stroke="#231f20" stroke-width="1.4"/>
<text x="385.20" y="418.10" font-size="8.7" text-anchor="end" fill="#231f20" >20000</text>
<line x1="387.80" y1="398.00" x2="391.20" y2="398.00" stroke="#231f20" stroke-width="1.4"/>
<text x="385.20" y="401.00" font-size="8.7" text-anchor="end" fill="#231f20" >30000</text>
<line x1="387.80" y1="380.90" x2="391.20" y2="380.90" stroke="#231f20" stroke-width="1.4"/>
<text x="385.20" y="383.90" font-size="8.7" text-anchor="end" fill="#231f20" >40000</text>
<line x1="387.80" y1="363.80" x2="391.20" y2="363.80" stroke="#231f20" stroke-width="1.4"/>
<text x="385.20" y="366.80" font-size="8.7" text-anchor="end" fill="#231f20" >50000</text>
<line x1="391.20" y1="449.30" x2="503.30" y2="449.30" stroke="#231f20" stroke-width="1.5"/>
<line x1="391.20" y1="449.30" x2="391.20" y2="452.70" stroke="#231f20" stroke-width="1.4"/>
<text x="391.20" y="463.90" font-size="8.3" text-anchor="middle" fill="#231f20" >0.0001</text>
<line x1="427.60" y1="449.30" x2="427.60" y2="452.70" stroke="#231f20" stroke-width="1.4"/>
<text x="427.60" y="463.90" font-size="8.3" text-anchor="middle" fill="#231f20" >0.01</text>
<line x1="464.00" y1="449.30" x2="464.00" y2="452.70" stroke="#231f20" stroke-width="1.4"/>
<text x="464.00" y="463.90" font-size="8.3" text-anchor="middle" fill="#231f20" >1</text>
<line x1="500.40" y1="449.30" x2="500.40" y2="452.70" stroke="#231f20" stroke-width="1.4"/>
<text x="500.40" y="463.90" font-size="8.3" text-anchor="middle" fill="#231f20" >100</text>
<text x="450.70" y="478.60" font-size="9.9" text-anchor="middle" fill="#231f20" >[AG-348 (µM)]</text>
<text transform="translate(343.20,404.00) rotate(-90)" font-size="9.5" text-anchor="middle" fill="#231f20">PK-R activity</text>
<text transform="translate(353.00,404.00) rotate(-90)" font-size="9.5" text-anchor="middle" fill="#231f20">(pyruvate peak area/g protein)</text>
<line x1="395.90" y1="418.40" x2="395.90" y2="427.90" stroke="#64a840" stroke-width="1.0"/>
<line x1="394.10" y1="418.40" x2="397.70" y2="418.40" stroke="#64a840" stroke-width="1.0"/>
<line x1="394.10" y1="427.90" x2="397.70" y2="427.90" stroke="#64a840" stroke-width="1.0"/>
<line x1="406.70" y1="415.20" x2="406.70" y2="420.50" stroke="#64a840" stroke-width="1.0"/>
<line x1="404.90" y1="415.20" x2="408.50" y2="415.20" stroke="#64a840" stroke-width="1.0"/>
<line x1="404.90" y1="420.50" x2="408.50" y2="420.50" stroke="#64a840" stroke-width="1.0"/>
<line x1="417.50" y1="414.10" x2="417.50" y2="420.50" stroke="#64a840" stroke-width="1.0"/>
<line x1="415.70" y1="414.10" x2="419.30" y2="414.10" stroke="#64a840" stroke-width="1.0"/>
<line x1="415.70" y1="420.50" x2="419.30" y2="420.50" stroke="#64a840" stroke-width="1.0"/>
<line x1="428.30" y1="411.00" x2="428.30" y2="417.30" stroke="#64a840" stroke-width="1.0"/>
<line x1="426.50" y1="411.00" x2="430.10" y2="411.00" stroke="#64a840" stroke-width="1.0"/>
<line x1="426.50" y1="417.30" x2="430.10" y2="417.30" stroke="#64a840" stroke-width="1.0"/>
<line x1="439.10" y1="405.70" x2="439.10" y2="417.30" stroke="#64a840" stroke-width="1.0"/>
<line x1="437.30" y1="405.70" x2="440.90" y2="405.70" stroke="#64a840" stroke-width="1.0"/>
<line x1="437.30" y1="417.30" x2="440.90" y2="417.30" stroke="#64a840" stroke-width="1.0"/>
<line x1="449.90" y1="397.20" x2="449.90" y2="407.80" stroke="#64a840" stroke-width="1.0"/>
<line x1="448.10" y1="397.20" x2="451.70" y2="397.20" stroke="#64a840" stroke-width="1.0"/>
<line x1="448.10" y1="407.80" x2="451.70" y2="407.80" stroke="#64a840" stroke-width="1.0"/>
<line x1="482.30" y1="381.30" x2="482.30" y2="394.00" stroke="#64a840" stroke-width="1.0"/>
<line x1="480.50" y1="381.30" x2="484.10" y2="381.30" stroke="#64a840" stroke-width="1.0"/>
<line x1="480.50" y1="394.00" x2="484.10" y2="394.00" stroke="#64a840" stroke-width="1.0"/>
<polyline points="395.90,419.13 398.06,419.07 400.22,419.01 402.38,418.93 404.54,418.84 406.70,418.72 408.86,418.58 411.02,418.41 413.18,418.21 415.34,417.97 417.50,417.68 419.66,417.34 421.82,416.93 423.98,416.44 426.14,415.87 428.30,415.20 430.46,414.42 432.62,413.53 434.78,412.52 436.94,411.38 439.10,410.12 441.26,408.73 443.42,407.24 445.58,405.67 447.74,404.03 449.90,402.35 452.06,400.68 454.22,399.03 456.38,397.45 458.54,395.95 460.70,394.56 462.86,393.28 465.02,392.13 467.18,391.10 469.34,390.20 471.50,389.42 473.66,388.74 475.82,388.16 477.98,387.67 480.14,387.25 482.30,386.90" fill="none" stroke="#64a840" stroke-width="1.6" stroke-linejoin="round"/>
<circle cx="395.90" cy="422.28" r="2.30" fill="#64a840"/>
<circle cx="406.70" cy="417.84" r="2.30" fill="#64a840"/>
<circle cx="417.50" cy="417.49" r="2.30" fill="#64a840"/>
<circle cx="428.30" cy="414.07" r="2.30" fill="#64a840"/>
<circle cx="439.10" cy="410.82" r="2.30" fill="#64a840"/>
<circle cx="449.90" cy="402.27" r="2.30" fill="#64a840"/>
<circle cx="460.70" cy="393.55" r="2.30" fill="#64a840"/>
<circle cx="471.50" cy="389.45" r="2.30" fill="#64a840"/>
<circle cx="482.30" cy="387.23" r="2.30" fill="#64a840"/>
<line x1="397.30" y1="372.50" x2="406.80" y2="372.50" stroke="#64a840" stroke-width="1.6"/>
<circle cx="402.05" cy="372.50" r="2.20" fill="#64a840"/>
<text x="409.80" y="375.40" font-size="8.88" text-anchor="start" textLength="33.68" lengthAdjust="spacingAndGlyphs" fill="#231f20" >Patient B</text>
<text x="9.30" y="502.50" font-size="13.2" font-weight="bold" textLength="8.14" lengthAdjust="spacingAndGlyphs" fill="#000" style="stroke:none">E</text>
<line x1="59.70" y1="509.40" x2="59.70" y2="595.45" stroke="#231f20" stroke-width="1.5"/>
<line x1="56.30" y1="594.70" x2="59.70" y2="594.70" stroke="#231f20" stroke-width="1.4"/>
<text x="52.80" y="597.70" font-size="8.7" text-anchor="end" fill="#231f20" >0</text>
<line x1="56.30" y1="578.50" x2="59.70" y2="578.50" stroke="#231f20" stroke-width="1.4"/>
<text x="52.80" y="581.50" font-size="8.7" text-anchor="end" fill="#231f20" >500</text>
<line x1="56.30" y1="562.30" x2="59.70" y2="562.30" stroke="#231f20" stroke-width="1.4"/>
<text x="52.80" y="565.30" font-size="8.7" text-anchor="end" fill="#231f20" >1000</text>
<line x1="56.30" y1="546.10" x2="59.70" y2="546.10" stroke="#231f20" stroke-width="1.4"/>
<text x="52.80" y="549.10" font-size="8.7" text-anchor="end" fill="#231f20" >1500</text>
<line x1="56.30" y1="529.90" x2="59.70" y2="529.90" stroke="#231f20" stroke-width="1.4"/>
<text x="52.80" y="532.90" font-size="8.7" text-anchor="end" fill="#231f20" >2000</text>
<line x1="56.30" y1="513.70" x2="59.70" y2="513.70" stroke="#231f20" stroke-width="1.4"/>
<text x="52.80" y="516.70" font-size="8.7" text-anchor="end" fill="#231f20" >2500</text>
<line x1="59.70" y1="594.70" x2="165.30" y2="594.70" stroke="#231f20" stroke-width="1.5"/>
<line x1="59.70" y1="594.70" x2="59.70" y2="598.10" stroke="#231f20" stroke-width="1.4"/>
<text x="59.70" y="609.20" font-size="8.3" text-anchor="middle" fill="#231f20" >0.0001</text>
<line x1="93.70" y1="594.70" x2="93.70" y2="598.10" stroke="#231f20" stroke-width="1.4"/>
<text x="93.70" y="609.20" font-size="8.3" text-anchor="middle" fill="#231f20" >0.01</text>
<line x1="127.70" y1="594.70" x2="127.70" y2="598.10" stroke="#231f20" stroke-width="1.4"/>
<text x="127.70" y="609.20" font-size="8.3" text-anchor="middle" fill="#231f20" >1</text>
<line x1="161.70" y1="594.70" x2="161.70" y2="598.10" stroke="#231f20" stroke-width="1.4"/>
<text x="161.70" y="609.20" font-size="8.3" text-anchor="middle" fill="#231f20" >100</text>
<text x="112.00" y="623.80" font-size="9.9" text-anchor="middle" fill="#231f20" >[AG-348 (µM)]</text>
<text transform="translate(28.90,552.40) rotate(-90)" font-size="9.8" text-anchor="middle" fill="#231f20">ATP (nM)</text>
<line x1="71.90" y1="556.90" x2="71.90" y2="566.40" stroke="#454b53" stroke-width="1.0"/>
<line x1="70.10" y1="556.90" x2="73.70" y2="556.90" stroke="#454b53" stroke-width="1.0"/>
<line x1="70.10" y1="566.40" x2="73.70" y2="566.40" stroke="#454b53" stroke-width="1.0"/>
<line x1="88.16" y1="554.30" x2="88.16" y2="558.30" stroke="#454b53" stroke-width="1.0"/>
<line x1="86.36" y1="554.30" x2="89.96" y2="554.30" stroke="#454b53" stroke-width="1.0"/>
<line x1="86.36" y1="558.30" x2="89.96" y2="558.30" stroke="#454b53" stroke-width="1.0"/>
<line x1="96.29" y1="551.40" x2="96.29" y2="557.80" stroke="#454b53" stroke-width="1.0"/>
<line x1="94.49" y1="551.40" x2="98.09" y2="551.40" stroke="#454b53" stroke-width="1.0"/>
<line x1="94.49" y1="557.80" x2="98.09" y2="557.80" stroke="#454b53" stroke-width="1.0"/>
<line x1="136.94" y1="530.00" x2="136.94" y2="534.00" stroke="#454b53" stroke-width="1.0"/>
<line x1="135.14" y1="530.00" x2="138.74" y2="530.00" stroke="#454b53" stroke-width="1.0"/>
<line x1="135.14" y1="534.00" x2="138.74" y2="534.00" stroke="#454b53" stroke-width="1.0"/>
<path d="M71.90,560.71 C73.26,560.44 77.32,559.70 80.03,559.06 C82.74,558.42 85.45,557.75 88.16,556.89 C90.87,556.03 93.58,554.88 96.29,553.88 C99.00,552.88 101.71,551.98 104.42,550.90 C107.13,549.82 109.84,549.13 112.55,547.40 C115.26,545.66 117.97,542.66 120.68,540.49 C123.39,538.33 126.10,535.94 128.81,534.40 C131.52,532.87 134.23,532.16 136.94,531.29 C139.65,530.42 143.72,529.54 145.07,529.19" fill="none" stroke="#454b53" stroke-width="1.6"/>
<polyline points="71.90,567.65 73.73,567.65 75.56,567.65 77.39,567.65 79.22,567.65 81.05,567.64 82.88,567.64 84.70,567.64 86.53,567.64 88.36,567.63 90.19,567.62 92.02,567.61 93.85,567.58 95.68,567.52 97.51,567.43 99.34,567.27 101.17,567.00 103.00,566.55 104.83,565.85 106.66,564.82 108.48,563.48 110.31,561.95 112.14,560.47 113.97,559.23 115.80,558.31 117.63,557.71 119.46,557.33 121.29,557.10 123.12,556.97 124.95,556.89 126.78,556.85 128.61,556.82 130.44,556.81 132.27,556.80 134.09,556.80 135.92,556.80 137.75,556.79 139.58,556.79 141.41,556.79 143.24,556.79 145.07,556.79" fill="none" stroke="#4a2569" stroke-width="1.6" stroke-linejoin="round"/>
<polyline points="71.90,575.36 73.73,575.35 75.56,575.34 77.39,575.33 79.22,575.31 81.05,575.29 82.88,575.27 84.70,575.24 86.53,575.21 88.36,575.17 90.19,575.13 92.02,575.08 93.85,575.02 95.68,574.95 97.51,574.87 99.34,574.78 101.17,574.67 103.00,574.55 104.83,574.41 106.66,574.26 108.48,574.08 110.31,573.88 112.14,573.67 113.97,573.43 115.80,573.17 117.63,572.89 119.46,572.60 121.29,572.29 123.12,571.97 124.95,571.64 126.78,571.31 128.61,570.98 130.44,570.66 132.27,570.35 134.09,570.06 135.92,569.77 137.75,569.51 139.58,569.27 141.41,569.05 143.24,568.85 145.07,568.68" fill="none" stroke="#948cc2" stroke-width="1.6" stroke-linejoin="round"/>
<rect x="69.80" y="573.00" width="4.20" height="4.20" fill="#948cc2"/>
<rect x="77.93" y="573.48" width="4.20" height="4.20" fill="#948cc2"/>
<rect x="86.06" y="573.16" width="4.20" height="4.20" fill="#948cc2"/>
<rect x="94.19" y="573.00" width="4.20" height="4.20" fill="#948cc2"/>
<rect x="102.32" y="572.77" width="4.20" height="4.20" fill="#948cc2"/>
<rect x="110.45" y="572.19" width="4.20" height="4.20" fill="#948cc2"/>
<rect x="118.58" y="570.31" width="4.20" height="4.20" fill="#948cc2"/>
<rect x="126.71" y="568.62" width="4.20" height="4.20" fill="#948cc2"/>
<rect x="134.84" y="567.00" width="4.20" height="4.20" fill="#948cc2"/>
<rect x="142.97" y="566.58" width="4.20" height="4.20" fill="#948cc2"/>
<path d="M71.90,562.40 L74.20,566.54 L69.60,566.54 Z" fill="#454b53"/>
<path d="M80.03,552.90 L82.33,557.04 L77.73,557.04 Z" fill="#454b53"/>
<path d="M88.16,554.30 L90.46,558.44 L85.86,558.44 Z" fill="#454b53"/>
<path d="M96.29,550.80 L98.59,554.94 L93.99,554.94 Z" fill="#454b53"/>
<path d="M104.42,548.60 L106.72,552.74 L102.12,552.74 Z" fill="#454b53"/>
<path d="M112.55,544.19 L114.85,548.33 L110.25,548.33 Z" fill="#454b53"/>
<path d="M120.68,538.19 L122.98,542.33 L118.38,542.33 Z" fill="#454b53"/>
<path d="M128.81,530.39 L131.11,534.53 L126.51,534.53 Z" fill="#454b53"/>
<path d="M136.94,528.70 L139.24,532.84 L134.64,532.84 Z" fill="#454b53"/>
<path d="M145.07,527.79 L147.37,531.93 L142.77,531.93 Z" fill="#454b53"/>
<path d="M71.90,572.21 L74.20,568.07 L69.60,568.07 Z" fill="#4a2569"/>
<path d="M80.03,566.09 L82.33,561.95 L77.73,561.95 Z" fill="#4a2569"/>
<path d="M88.16,569.78 L90.46,565.64 L85.86,565.64 Z" fill="#4a2569"/>
<path d="M96.29,569.62 L98.59,565.48 L93.99,565.48 Z" fill="#4a2569"/>
<path d="M104.42,568.68 L106.72,564.54 L102.12,564.54 Z" fill="#4a2569"/>
<path d="M112.55,562.72 L114.85,558.58 L110.25,558.58 Z" fill="#4a2569"/>
<path d="M120.68,559.09 L122.98,554.95 L118.38,554.95 Z" fill="#4a2569"/>
<path d="M128.81,559.09 L131.11,554.95 L126.51,554.95 Z" fill="#4a2569"/>
<path d="M136.94,559.09 L139.24,554.95 L134.64,554.95 Z" fill="#4a2569"/>
<path d="M145.07,559.09 L147.37,554.95 L142.77,554.95 Z" fill="#4a2569"/>
<line x1="65.40" y1="516.20" x2="74.40" y2="516.20" stroke="#454b53" stroke-width="1.6"/>
<path d="M69.90,514.00 L72.10,517.96 L67.70,517.96 Z" fill="#454b53"/>
<text x="76.20" y="519.10" font-size="8.88" text-anchor="start" textLength="34.14" lengthAdjust="spacingAndGlyphs" fill="#231f20" >Patient C</text>
<line x1="65.40" y1="526.00" x2="74.40" y2="526.00" stroke="#4a2569" stroke-width="1.6"/>
<path d="M69.90,528.20 L72.10,524.24 L67.70,524.24 Z" fill="#4a2569"/>
<text x="76.20" y="528.90" font-size="8.88" text-anchor="start" textLength="34.14" lengthAdjust="spacingAndGlyphs" fill="#231f20" >Patient D</text>
<line x1="65.40" y1="536.40" x2="74.40" y2="536.40" stroke="#948cc2" stroke-width="1.6"/>
<rect x="67.70" y="534.20" width="4.40" height="4.40" fill="#948cc2"/>
<text x="76.20" y="539.30" font-size="8.88" text-anchor="start" textLength="34.60" lengthAdjust="spacingAndGlyphs" fill="#231f20" >Patient G</text>
<line x1="205.00" y1="510.70" x2="205.00" y2="595.65" stroke="#231f20" stroke-width="1.5"/>
<line x1="201.60" y1="594.90" x2="205.00" y2="594.90" stroke="#231f20" stroke-width="1.4"/>
<text x="199.00" y="597.90" font-size="8.7" text-anchor="end" fill="#231f20" >0</text>
<line x1="201.60" y1="578.82" x2="205.00" y2="578.82" stroke="#231f20" stroke-width="1.4"/>
<text x="199.00" y="581.82" font-size="8.7" text-anchor="end" fill="#231f20" >500</text>
<line x1="201.60" y1="562.74" x2="205.00" y2="562.74" stroke="#231f20" stroke-width="1.4"/>
<text x="199.00" y="565.74" font-size="8.7" text-anchor="end" fill="#231f20" >1000</text>
<line x1="201.60" y1="546.66" x2="205.00" y2="546.66" stroke="#231f20" stroke-width="1.4"/>
<text x="199.00" y="549.66" font-size="8.7" text-anchor="end" fill="#231f20" >1500</text>
<line x1="201.60" y1="530.58" x2="205.00" y2="530.58" stroke="#231f20" stroke-width="1.4"/>
<text x="199.00" y="533.58" font-size="8.7" text-anchor="end" fill="#231f20" >2000</text>
<line x1="201.60" y1="514.50" x2="205.00" y2="514.50" stroke="#231f20" stroke-width="1.4"/>
<text x="199.00" y="517.50" font-size="8.7" text-anchor="end" fill="#231f20" >2500</text>
<line x1="205.00" y1="594.90" x2="310.00" y2="594.90" stroke="#231f20" stroke-width="1.5"/>
<line x1="205.00" y1="594.90" x2="205.00" y2="598.30" stroke="#231f20" stroke-width="1.4"/>
<text x="205.00" y="609.20" font-size="8.3" text-anchor="middle" fill="#231f20" >0.0001</text>
<line x1="239.00" y1="594.90" x2="239.00" y2="598.30" stroke="#231f20" stroke-width="1.4"/>
<text x="239.00" y="609.20" font-size="8.3" text-anchor="middle" fill="#231f20" >0.01</text>
<line x1="273.00" y1="594.90" x2="273.00" y2="598.30" stroke="#231f20" stroke-width="1.4"/>
<text x="273.00" y="609.20" font-size="8.3" text-anchor="middle" fill="#231f20" >1</text>
<line x1="307.00" y1="594.90" x2="307.00" y2="598.30" stroke="#231f20" stroke-width="1.4"/>
<text x="307.00" y="609.20" font-size="8.3" text-anchor="middle" fill="#231f20" >100</text>
<text x="256.70" y="623.80" font-size="9.9" text-anchor="middle" fill="#231f20" >[AG-348 (µM)]</text>
<line x1="208.20" y1="551.50" x2="208.20" y2="556.80" stroke="#2b6352" stroke-width="1.0"/>
<line x1="206.40" y1="551.50" x2="210.00" y2="551.50" stroke="#2b6352" stroke-width="1.0"/>
<line x1="206.40" y1="556.80" x2="210.00" y2="556.80" stroke="#2b6352" stroke-width="1.0"/>
<line x1="218.34" y1="550.40" x2="218.34" y2="556.80" stroke="#2b6352" stroke-width="1.0"/>
<line x1="216.54" y1="550.40" x2="220.14" y2="550.40" stroke="#2b6352" stroke-width="1.0"/>
<line x1="216.54" y1="556.80" x2="220.14" y2="556.80" stroke="#2b6352" stroke-width="1.0"/>
<line x1="248.76" y1="548.40" x2="248.76" y2="555.80" stroke="#2b6352" stroke-width="1.0"/>
<line x1="246.96" y1="548.40" x2="250.56" y2="548.40" stroke="#2b6352" stroke-width="1.0"/>
<line x1="246.96" y1="555.80" x2="250.56" y2="555.80" stroke="#2b6352" stroke-width="1.0"/>
<line x1="258.90" y1="550.40" x2="258.90" y2="555.80" stroke="#2b6352" stroke-width="1.0"/>
<line x1="257.10" y1="550.40" x2="260.70" y2="550.40" stroke="#2b6352" stroke-width="1.0"/>
<line x1="257.10" y1="555.80" x2="260.70" y2="555.80" stroke="#2b6352" stroke-width="1.0"/>
<line x1="269.04" y1="546.20" x2="269.04" y2="555.80" stroke="#2b6352" stroke-width="1.0"/>
<line x1="267.24" y1="546.20" x2="270.84" y2="546.20" stroke="#2b6352" stroke-width="1.0"/>
<line x1="267.24" y1="555.80" x2="270.84" y2="555.80" stroke="#2b6352" stroke-width="1.0"/>
<line x1="279.18" y1="543.00" x2="279.18" y2="549.40" stroke="#2b6352" stroke-width="1.0"/>
<line x1="277.38" y1="543.00" x2="280.98" y2="543.00" stroke="#2b6352" stroke-width="1.0"/>
<line x1="277.38" y1="549.40" x2="280.98" y2="549.40" stroke="#2b6352" stroke-width="1.0"/>
<line x1="289.32" y1="541.00" x2="289.32" y2="548.40" stroke="#2b6352" stroke-width="1.0"/>
<line x1="287.52" y1="541.00" x2="291.12" y2="541.00" stroke="#2b6352" stroke-width="1.0"/>
<line x1="287.52" y1="548.40" x2="291.12" y2="548.40" stroke="#2b6352" stroke-width="1.0"/>
<line x1="269.04" y1="524.00" x2="269.04" y2="528.30" stroke="#df9127" stroke-width="1.0"/>
<line x1="267.24" y1="524.00" x2="270.84" y2="524.00" stroke="#df9127" stroke-width="1.0"/>
<line x1="267.24" y1="528.30" x2="270.84" y2="528.30" stroke="#df9127" stroke-width="1.0"/>
<path d="M208.20,554.70 C209.89,554.70 214.96,554.70 218.34,554.70 C221.72,554.70 225.10,554.70 228.48,554.70 C231.86,554.70 235.24,554.75 238.62,554.70 C242.00,554.65 245.38,554.73 248.76,554.38 C252.14,554.03 255.52,553.61 258.90,552.61 C262.28,551.61 265.66,549.70 269.04,548.40 C272.42,547.09 275.80,545.68 279.18,544.79 C282.56,543.91 287.63,543.37 289.32,543.09" fill="none" stroke="#2b6352" stroke-width="1.6"/>
<path d="M208.20,564.70 C209.89,564.32 214.96,563.20 218.34,562.42 C221.72,561.64 225.10,560.76 228.48,560.01 C231.86,559.26 235.24,559.05 238.62,557.92 C242.00,556.78 245.38,554.78 248.76,553.19 C252.14,551.60 255.52,549.73 258.90,548.40 C262.28,547.07 265.66,545.96 269.04,545.21 C272.42,544.47 275.80,544.28 279.18,543.93 C282.56,543.57 287.63,543.23 289.32,543.09" fill="none" stroke="#64a840" stroke-width="1.6"/>
<path d="M208.20,559.01 C209.89,558.83 214.96,558.57 218.34,557.92 C221.72,557.26 225.10,556.51 228.48,555.09 C231.86,553.67 235.24,551.92 238.62,549.39 C242.00,546.86 245.38,542.91 248.76,539.91 C252.14,536.90 255.52,533.50 258.90,531.38 C262.28,529.27 265.66,528.00 269.04,527.20 C272.42,526.40 275.80,526.66 279.18,526.59 C282.56,526.52 287.63,526.75 289.32,526.79" fill="none" stroke="#df9127" stroke-width="1.6"/>
<rect x="206.10" y="552.60" width="4.20" height="4.20" fill="#2b6352"/>
<rect x="216.24" y="552.60" width="4.20" height="4.20" fill="#2b6352"/>
<rect x="226.38" y="552.60" width="4.20" height="4.20" fill="#2b6352"/>
<rect x="236.52" y="552.60" width="4.20" height="4.20" fill="#2b6352"/>
<rect x="246.66" y="547.78" width="4.20" height="4.20" fill="#2b6352"/>
<rect x="256.80" y="551.31" width="4.20" height="4.20" fill="#2b6352"/>
<rect x="266.94" y="546.30" width="4.20" height="4.20" fill="#2b6352"/>
<rect x="277.08" y="542.69" width="4.20" height="4.20" fill="#2b6352"/>
<rect x="287.22" y="541.99" width="4.20" height="4.20" fill="#2b6352"/>
<circle cx="208.20" cy="564.70" r="2.30" fill="#64a840"/>
<circle cx="218.34" cy="561.32" r="2.30" fill="#64a840"/>
<circle cx="228.48" cy="560.01" r="2.30" fill="#64a840"/>
<circle cx="238.62" cy="557.92" r="2.30" fill="#64a840"/>
<circle cx="248.76" cy="553.19" r="2.30" fill="#64a840"/>
<circle cx="258.90" cy="548.40" r="2.30" fill="#64a840"/>
<circle cx="269.04" cy="545.21" r="2.30" fill="#64a840"/>
<circle cx="279.18" cy="544.73" r="2.30" fill="#64a840"/>
<circle cx="289.32" cy="543.09" r="2.30" fill="#64a840"/>
<path d="M208.20,556.31 L210.90,559.01 L208.20,561.71 L205.50,559.01 Z" fill="#df9127"/>
<path d="M218.34,555.22 L221.04,557.92 L218.34,560.62 L215.64,557.92 Z" fill="#df9127"/>
<path d="M228.48,552.39 L231.18,555.09 L228.48,557.79 L225.78,555.09 Z" fill="#df9127"/>
<path d="M238.62,546.69 L241.32,549.39 L238.62,552.09 L235.92,549.39 Z" fill="#df9127"/>
<path d="M248.76,537.21 L251.46,539.91 L248.76,542.61 L246.06,539.91 Z" fill="#df9127"/>
<path d="M258.90,528.68 L261.60,531.38 L258.90,534.08 L256.20,531.38 Z" fill="#df9127"/>
<path d="M269.04,522.73 L271.74,525.43 L269.04,528.13 L266.34,525.43 Z" fill="#df9127"/>
<path d="M279.18,523.89 L281.88,526.59 L279.18,529.29 L276.48,526.59 Z" fill="#df9127"/>
<path d="M289.32,524.09 L292.02,526.79 L289.32,529.49 L286.62,526.79 Z" fill="#df9127"/>
<line x1="257.60" y1="566.30" x2="267.10" y2="566.30" stroke="#64a840" stroke-width="1.6"/>
<circle cx="262.35" cy="566.30" r="2.20" fill="#64a840"/>
<text x="270.90" y="569.20" font-size="8.88" text-anchor="start" textLength="33.68" lengthAdjust="spacingAndGlyphs" fill="#231f20" >Patient B</text>
<line x1="257.60" y1="576.60" x2="267.10" y2="576.60" stroke="#df9127" stroke-width="1.6"/>
<path d="M262.35,573.90 L265.05,576.60 L262.35,579.30 L259.65,576.60 Z" fill="#df9127"/>
<text x="270.90" y="579.50" font-size="8.88" text-anchor="start" textLength="33.68" lengthAdjust="spacingAndGlyphs" fill="#231f20" >Patient E</text>
<line x1="257.60" y1="586.60" x2="267.10" y2="586.60" stroke="#2b6352" stroke-width="1.6"/>
<rect x="260.15" y="584.40" width="4.40" height="4.40" fill="#2b6352"/>
<text x="270.90" y="589.50" font-size="8.88" text-anchor="start" textLength="33.22" lengthAdjust="spacingAndGlyphs" fill="#231f20" >Patient F</text>
<text x="329.60" y="501.90" font-size="13.2" font-weight="bold" textLength="7.45" lengthAdjust="spacingAndGlyphs" fill="#000" style="stroke:none">F</text>
<line x1="351.50" y1="494.20" x2="351.50" y2="636.40" stroke="#231f20" stroke-width="1.4"/>
<line x1="396.30" y1="494.20" x2="396.30" y2="636.40" stroke="#231f20" stroke-width="1.4"/>
<line x1="440.60" y1="494.20" x2="440.60" y2="636.40" stroke="#231f20" stroke-width="1.4"/>
<line x1="470.40" y1="494.20" x2="470.40" y2="636.40" stroke="#231f20" stroke-width="1.4"/>
<line x1="512.30" y1="494.20" x2="512.30" y2="636.40" stroke="#231f20" stroke-width="1.4"/>
<line x1="337.30" y1="529.80" x2="512.90" y2="529.80" stroke="#231f20" stroke-width="1.4"/>
<line x1="337.30" y1="636.00" x2="512.90" y2="636.00" stroke="#231f20" stroke-width="1.4"/>
<text x="373.80" y="513.00" font-size="8.6" text-anchor="middle" fill="#231f20">AC<tspan font-size="6.2" dy="1.8">50</tspan></text>
<text x="373.80" y="523.70" font-size="9.46" text-anchor="middle" textLength="32.96" lengthAdjust="spacingAndGlyphs" fill="#231f20" >(Activity)</text>
<text x="418.40" y="501.90" font-size="9.46" text-anchor="middle" textLength="16.73" lengthAdjust="spacingAndGlyphs" fill="#231f20" >Fold</text>
<text x="418.40" y="512.60" font-size="9.46" text-anchor="middle" textLength="28.22" lengthAdjust="spacingAndGlyphs" fill="#231f20" >change</text>
<text x="418.40" y="523.70" font-size="9.46" text-anchor="middle" textLength="32.96" lengthAdjust="spacingAndGlyphs" fill="#231f20" >(Activity)</text>
<text x="455.90" y="513.00" font-size="8.6" text-anchor="middle" fill="#231f20">AC<tspan font-size="6.2" dy="1.8">50</tspan></text>
<text x="455.90" y="523.70" font-size="9.46" text-anchor="middle" textLength="21.82" lengthAdjust="spacingAndGlyphs" fill="#231f20" >(ATP)</text>
<text x="491.20" y="501.90" font-size="9.46" text-anchor="middle" textLength="16.73" lengthAdjust="spacingAndGlyphs" fill="#231f20" >Fold</text>
<text x="491.20" y="512.60" font-size="9.46" text-anchor="middle" textLength="28.22" lengthAdjust="spacingAndGlyphs" fill="#231f20" >change</text>
<text x="491.20" y="523.70" font-size="9.46" text-anchor="middle" textLength="21.82" lengthAdjust="spacingAndGlyphs" fill="#231f20" >(ATP)</text>
<text x="344.60" y="541.00" font-size="9.46" text-anchor="middle" textLength="5.74" lengthAdjust="spacingAndGlyphs" fill="#231f20" >A</text>
<text x="373.80" y="541.00" font-size="9.46" text-anchor="middle" textLength="14.35" lengthAdjust="spacingAndGlyphs" fill="#231f20" >721</text>
<text x="418.40" y="541.00" font-size="9.46" text-anchor="middle" textLength="16.74" lengthAdjust="spacingAndGlyphs" fill="#231f20" >3.44</text>
<text x="455.90" y="541.00" font-size="9.46" text-anchor="middle" textLength="9.57" lengthAdjust="spacingAndGlyphs" fill="#231f20" >96</text>
<text x="491.20" y="541.00" font-size="9.46" text-anchor="middle" textLength="16.74" lengthAdjust="spacingAndGlyphs" fill="#231f20" >1.91</text>
<text x="344.60" y="556.23" font-size="9.46" text-anchor="middle" textLength="5.74" lengthAdjust="spacingAndGlyphs" fill="#231f20" >B</text>
<text x="373.80" y="556.23" font-size="9.46" text-anchor="middle" textLength="14.35" lengthAdjust="spacingAndGlyphs" fill="#231f20" >150</text>
<text x="418.40" y="556.23" font-size="9.46" text-anchor="middle" textLength="11.96" lengthAdjust="spacingAndGlyphs" fill="#231f20" >2.4</text>
<text x="455.90" y="556.23" font-size="9.46" text-anchor="middle" textLength="9.57" lengthAdjust="spacingAndGlyphs" fill="#231f20" >40</text>
<text x="491.20" y="556.23" font-size="9.46" text-anchor="middle" textLength="16.74" lengthAdjust="spacingAndGlyphs" fill="#231f20" >1.75</text>
<text x="344.60" y="571.46" font-size="9.46" text-anchor="middle" textLength="6.21" lengthAdjust="spacingAndGlyphs" fill="#231f20" >C</text>
<text x="373.80" y="571.46" font-size="9.46" text-anchor="middle" textLength="9.57" lengthAdjust="spacingAndGlyphs" fill="#231f20" >75</text>
<text x="418.40" y="571.46" font-size="9.46" text-anchor="middle" textLength="11.96" lengthAdjust="spacingAndGlyphs" fill="#231f20" >1.3</text>
<text x="455.90" y="571.46" font-size="9.46" text-anchor="middle" textLength="14.35" lengthAdjust="spacingAndGlyphs" fill="#231f20" >221</text>
<text x="491.20" y="571.46" font-size="9.46" text-anchor="middle" textLength="16.74" lengthAdjust="spacingAndGlyphs" fill="#231f20" >2.38</text>
<text x="344.60" y="586.69" font-size="9.46" text-anchor="middle" textLength="6.21" lengthAdjust="spacingAndGlyphs" fill="#231f20" >D</text>
<text x="373.80" y="586.69" font-size="9.46" text-anchor="middle" textLength="13.71" lengthAdjust="spacingAndGlyphs" fill="#231f20" >114</text>
<text x="418.40" y="586.69" font-size="9.46" text-anchor="middle" textLength="4.78" lengthAdjust="spacingAndGlyphs" fill="#231f20" >2</text>
<text x="455.90" y="586.69" font-size="9.46" text-anchor="middle" textLength="9.57" lengthAdjust="spacingAndGlyphs" fill="#231f20" >82</text>
<text x="491.20" y="586.69" font-size="9.46" text-anchor="middle" textLength="16.74" lengthAdjust="spacingAndGlyphs" fill="#231f20" >1.58</text>
<text x="344.60" y="601.92" font-size="9.46" text-anchor="middle" textLength="5.74" lengthAdjust="spacingAndGlyphs" fill="#231f20" >E</text>
<text x="373.80" y="601.92" font-size="9.46" text-anchor="middle" textLength="14.35" lengthAdjust="spacingAndGlyphs" fill="#231f20" >189</text>
<text x="418.40" y="601.92" font-size="9.46" text-anchor="middle" textLength="11.96" lengthAdjust="spacingAndGlyphs" fill="#231f20" >2.4</text>
<text x="455.90" y="601.92" font-size="9.46" text-anchor="middle" textLength="9.57" lengthAdjust="spacingAndGlyphs" fill="#231f20" >26</text>
<text x="491.20" y="601.92" font-size="9.46" text-anchor="middle" textLength="16.74" lengthAdjust="spacingAndGlyphs" fill="#231f20" >1.94</text>
<text x="344.60" y="617.15" font-size="9.46" text-anchor="middle" textLength="5.25" lengthAdjust="spacingAndGlyphs" fill="#231f20" >F</text>
<text x="373.80" y="617.15" font-size="9.46" text-anchor="middle" textLength="14.35" lengthAdjust="spacingAndGlyphs" fill="#231f20" >135</text>
<text x="418.40" y="617.15" font-size="9.46" text-anchor="middle" textLength="16.74" lengthAdjust="spacingAndGlyphs" fill="#231f20" >1.27</text>
<text x="455.90" y="617.15" font-size="9.46" text-anchor="middle" textLength="14.35" lengthAdjust="spacingAndGlyphs" fill="#231f20" >553</text>
<text x="491.20" y="617.15" font-size="9.46" text-anchor="middle" textLength="16.74" lengthAdjust="spacingAndGlyphs" fill="#231f20" >1.27</text>
<text x="344.60" y="632.38" font-size="9.46" text-anchor="middle" textLength="6.69" lengthAdjust="spacingAndGlyphs" fill="#231f20" >G</text>
<text x="373.80" y="632.38" font-size="9.46" text-anchor="middle" textLength="20.07" lengthAdjust="spacingAndGlyphs" fill="#231f20" >No fit</text>
<text x="418.40" y="632.38" font-size="9.46" text-anchor="middle" textLength="20.07" lengthAdjust="spacingAndGlyphs" fill="#231f20" >No fit</text>
<text x="455.90" y="632.38" font-size="9.46" text-anchor="middle" textLength="14.35" lengthAdjust="spacingAndGlyphs" fill="#231f20" >730</text>
<text x="491.20" y="632.38" font-size="9.46" text-anchor="middle" textLength="16.74" lengthAdjust="spacingAndGlyphs" fill="#231f20" >1.40</text>
<text x="8.30" y="643.70" font-size="13.2" font-weight="bold" textLength="9.49" lengthAdjust="spacingAndGlyphs" fill="#000" style="stroke:none">G</text>
<line x1="59.70" y1="648.30" x2="59.70" y2="747.55" stroke="#231f20" stroke-width="1.5"/>
<line x1="56.30" y1="746.80" x2="59.70" y2="746.80" stroke="#231f20" stroke-width="1.4"/>
<text x="52.80" y="749.80" font-size="8.7" text-anchor="end" fill="#231f20" >0</text>
<line x1="56.30" y1="727.95" x2="59.70" y2="727.95" stroke="#231f20" stroke-width="1.4"/>
<text x="52.80" y="730.95" font-size="8.7" text-anchor="end" fill="#231f20" >20</text>
<line x1="56.30" y1="709.10" x2="59.70" y2="709.10" stroke="#231f20" stroke-width="1.4"/>
<text x="52.80" y="712.10" font-size="8.7" text-anchor="end" fill="#231f20" >40</text>
<line x1="56.30" y1="690.25" x2="59.70" y2="690.25" stroke="#231f20" stroke-width="1.4"/>
<text x="52.80" y="693.25" font-size="8.7" text-anchor="end" fill="#231f20" >60</text>
<line x1="56.30" y1="671.40" x2="59.70" y2="671.40" stroke="#231f20" stroke-width="1.4"/>
<text x="52.80" y="674.40" font-size="8.7" text-anchor="end" fill="#231f20" >80</text>
<line x1="56.30" y1="652.55" x2="59.70" y2="652.55" stroke="#231f20" stroke-width="1.4"/>
<text x="52.80" y="655.55" font-size="8.7" text-anchor="end" fill="#231f20" >100</text>
<line x1="59.70" y1="746.80" x2="177.50" y2="746.80" stroke="#231f20" stroke-width="1.5"/>
<line x1="60.00" y1="746.80" x2="60.00" y2="750.20" stroke="#231f20" stroke-width="1.4"/>
<text x="60.00" y="761.40" font-size="8.3" text-anchor="middle" fill="#231f20" >0.0001</text>
<line x1="98.80" y1="746.80" x2="98.80" y2="750.20" stroke="#231f20" stroke-width="1.4"/>
<text x="98.80" y="761.40" font-size="8.3" text-anchor="middle" fill="#231f20" >0.01</text>
<line x1="137.60" y1="746.80" x2="137.60" y2="750.20" stroke="#231f20" stroke-width="1.4"/>
<text x="137.60" y="761.40" font-size="8.3" text-anchor="middle" fill="#231f20" >1</text>
<line x1="176.40" y1="746.80" x2="176.40" y2="750.20" stroke="#231f20" stroke-width="1.4"/>
<text x="176.40" y="761.40" font-size="8.3" text-anchor="middle" fill="#231f20" >100</text>
<text x="120.40" y="775.50" font-size="9.9" text-anchor="middle" fill="#231f20" >[AG-348 (µM)]</text>
<text transform="translate(18.30,698.00) rotate(-90)" font-size="9.5" text-anchor="middle" fill="#231f20">PK-R activity</text>
<text transform="translate(31.00,698.00) rotate(-90)" font-size="9.5" text-anchor="middle" fill="#231f20">(nmoles/sec/g protein)</text>
<line x1="63.80" y1="703.40" x2="63.80" y2="707.60" stroke="#a5133a" stroke-width="1.0"/>
<line x1="62.00" y1="703.40" x2="65.60" y2="703.40" stroke="#a5133a" stroke-width="1.0"/>
<line x1="62.00" y1="707.60" x2="65.60" y2="707.60" stroke="#a5133a" stroke-width="1.0"/>
<line x1="82.68" y1="698.10" x2="82.68" y2="703.40" stroke="#a5133a" stroke-width="1.0"/>
<line x1="80.88" y1="698.10" x2="84.48" y2="698.10" stroke="#a5133a" stroke-width="1.0"/>
<line x1="80.88" y1="703.40" x2="84.48" y2="703.40" stroke="#a5133a" stroke-width="1.0"/>
<line x1="120.44" y1="672.70" x2="120.44" y2="680.10" stroke="#a5133a" stroke-width="1.0"/>
<line x1="118.64" y1="672.70" x2="122.24" y2="672.70" stroke="#a5133a" stroke-width="1.0"/>
<line x1="118.64" y1="680.10" x2="122.24" y2="680.10" stroke="#a5133a" stroke-width="1.0"/>
<line x1="139.32" y1="669.50" x2="139.32" y2="675.90" stroke="#a5133a" stroke-width="1.0"/>
<line x1="137.52" y1="669.50" x2="141.12" y2="669.50" stroke="#a5133a" stroke-width="1.0"/>
<line x1="137.52" y1="675.90" x2="141.12" y2="675.90" stroke="#a5133a" stroke-width="1.0"/>
<line x1="158.20" y1="669.50" x2="158.20" y2="675.90" stroke="#a5133a" stroke-width="1.0"/>
<line x1="156.40" y1="669.50" x2="160.00" y2="669.50" stroke="#a5133a" stroke-width="1.0"/>
<line x1="156.40" y1="675.90" x2="160.00" y2="675.90" stroke="#a5133a" stroke-width="1.0"/>
<path d="M63.80,704.39 C65.37,704.04 70.09,702.83 73.24,702.31 C76.39,701.80 79.53,701.81 82.68,701.28 C85.83,700.74 88.97,700.52 92.12,699.11 C95.27,697.70 98.41,695.51 101.56,692.79 C104.71,690.08 107.85,685.62 111.00,682.80 C114.15,679.99 117.29,677.71 120.44,675.92 C123.59,674.13 126.73,672.74 129.88,672.06 C133.03,671.38 136.17,671.87 139.32,671.87 C142.47,671.87 145.61,671.92 148.76,672.06 C151.91,672.20 156.63,672.61 158.20,672.72" fill="none" stroke="#a5133a" stroke-width="1.6"/>
<path d="M63.80,730.87 C65.37,730.87 70.09,730.87 73.24,730.87 C76.39,730.87 79.53,730.89 82.68,730.87 C85.83,730.86 88.97,731.03 92.12,730.78 C95.27,730.53 98.41,729.94 101.56,729.36 C104.71,728.78 107.85,728.11 111.00,727.29 C114.15,726.47 117.29,726.16 120.44,724.46 C123.59,722.77 126.73,719.67 129.88,717.11 C133.03,714.55 136.17,711.93 139.32,709.10 C142.47,706.27 145.61,702.05 148.76,700.15 C151.91,698.25 156.63,698.10 158.20,697.70" fill="none" stroke="#2c4676" stroke-width="1.6"/>
<circle cx="63.80" cy="705.52" r="2.70" fill="#a5133a"/>
<circle cx="73.24" cy="702.31" r="2.70" fill="#a5133a"/>
<circle cx="82.68" cy="701.28" r="2.70" fill="#a5133a"/>
<circle cx="92.12" cy="699.11" r="2.70" fill="#a5133a"/>
<circle cx="101.56" cy="692.79" r="2.70" fill="#a5133a"/>
<circle cx="111.00" cy="682.80" r="2.70" fill="#a5133a"/>
<circle cx="120.44" cy="675.92" r="2.70" fill="#a5133a"/>
<circle cx="129.88" cy="672.06" r="2.70" fill="#a5133a"/>
<circle cx="139.32" cy="671.87" r="2.70" fill="#a5133a"/>
<circle cx="148.76" cy="672.06" r="2.70" fill="#a5133a"/>
<circle cx="158.20" cy="672.72" r="2.70" fill="#a5133a"/>
<rect x="61.60" y="729.14" width="4.40" height="4.40" fill="#c9d3e3" stroke="#2c4676" stroke-width="1.2"/>
<rect x="71.04" y="729.14" width="4.40" height="4.40" fill="#c9d3e3" stroke="#2c4676" stroke-width="1.2"/>
<rect x="80.48" y="730.09" width="4.40" height="4.40" fill="#c9d3e3" stroke="#2c4676" stroke-width="1.2"/>
<rect x="89.92" y="729.14" width="4.40" height="4.40" fill="#c9d3e3" stroke="#2c4676" stroke-width="1.2"/>
<rect x="99.36" y="727.63" width="4.40" height="4.40" fill="#c9d3e3" stroke="#2c4676" stroke-width="1.2"/>
<rect x="108.80" y="725.09" width="4.40" height="4.40" fill="#c9d3e3" stroke="#2c4676" stroke-width="1.2"/>
<rect x="118.24" y="722.26" width="4.40" height="4.40" fill="#c9d3e3" stroke="#2c4676" stroke-width="1.2"/>
<rect x="127.68" y="714.91" width="4.40" height="4.40" fill="#c9d3e3" stroke="#2c4676" stroke-width="1.2"/>
<rect x="137.12" y="706.90" width="4.40" height="4.40" fill="#c9d3e3" stroke="#2c4676" stroke-width="1.2"/>
<rect x="146.56" y="696.91" width="4.40" height="4.40" fill="#c9d3e3" stroke="#2c4676" stroke-width="1.2"/>
<rect x="156.00" y="695.87" width="4.40" height="4.40" fill="#c9d3e3" stroke="#2c4676" stroke-width="1.2"/>
<line x1="64.00" y1="655.70" x2="74.40" y2="655.70" stroke="#a5133a" stroke-width="1.6"/>
<circle cx="69.20" cy="655.70" r="2.20" fill="#a5133a"/>
<text x="77.20" y="658.60" font-size="8.88" text-anchor="start" textLength="12.90" lengthAdjust="spacingAndGlyphs" fill="#231f20" >WT</text>
<line x1="64.00" y1="667.00" x2="74.40" y2="667.00" stroke="#2c4676" stroke-width="1.6"/>
<rect x="67.30" y="665.10" width="3.80" height="3.80" fill="#c9d3e3" stroke="#2c4676" stroke-width="1.2"/>
<text x="77.20" y="669.90" font-size="8.88" text-anchor="start" textLength="33.23" lengthAdjust="spacingAndGlyphs" fill="#231f20" >Patient A</text>
<line x1="236.20" y1="647.80" x2="236.20" y2="747.15" stroke="#231f20" stroke-width="1.5"/>
<line x1="232.80" y1="746.40" x2="236.20" y2="746.40" stroke="#231f20" stroke-width="1.4"/>
<text x="229.30" y="749.40" font-size="8.7" text-anchor="end" fill="#231f20" >0</text>
<line x1="232.80" y1="727.55" x2="236.20" y2="727.55" stroke="#231f20" stroke-width="1.4"/>
<text x="229.30" y="730.55" font-size="8.7" text-anchor="end" fill="#231f20" >1000</text>
<line x1="232.80" y1="708.70" x2="236.20" y2="708.70" stroke="#231f20" stroke-width="1.4"/>
<text x="229.30" y="711.70" font-size="8.7" text-anchor="end" fill="#231f20" >2000</text>
<line x1="232.80" y1="689.85" x2="236.20" y2="689.85" stroke="#231f20" stroke-width="1.4"/>
<text x="229.30" y="692.85" font-size="8.7" text-anchor="end" fill="#231f20" >3000</text>
<line x1="232.80" y1="671.00" x2="236.20" y2="671.00" stroke="#231f20" stroke-width="1.4"/>
<text x="229.30" y="674.00" font-size="8.7" text-anchor="end" fill="#231f20" >4000</text>
<line x1="232.80" y1="652.15" x2="236.20" y2="652.15" stroke="#231f20" stroke-width="1.4"/>
<text x="229.30" y="655.15" font-size="8.7" text-anchor="end" fill="#231f20" >5000</text>
<line x1="236.20" y1="746.40" x2="356.50" y2="746.40" stroke="#231f20" stroke-width="1.5"/>
<line x1="236.20" y1="746.40" x2="236.20" y2="749.80" stroke="#231f20" stroke-width="1.4"/>
<text x="236.20" y="761.00" font-size="8.3" text-anchor="middle" fill="#231f20" >0.0001</text>
<line x1="275.80" y1="746.40" x2="275.80" y2="749.80" stroke="#231f20" stroke-width="1.4"/>
<text x="275.80" y="761.00" font-size="8.3" text-anchor="middle" fill="#231f20" >0.01</text>
<line x1="315.40" y1="746.40" x2="315.40" y2="749.80" stroke="#231f20" stroke-width="1.4"/>
<text x="315.40" y="761.00" font-size="8.3" text-anchor="middle" fill="#231f20" >1</text>
<line x1="355.00" y1="746.40" x2="355.00" y2="749.80" stroke="#231f20" stroke-width="1.4"/>
<text x="355.00" y="761.00" font-size="8.3" text-anchor="middle" fill="#231f20" >100</text>
<text x="298.10" y="775.50" font-size="9.9" text-anchor="middle" fill="#231f20" >[AG-348 (µM)]</text>
<text transform="translate(204.50,697.40) rotate(-90)" font-size="9.8" text-anchor="middle" fill="#231f20">ATP (nM)</text>
<line x1="240.90" y1="693.40" x2="240.90" y2="700.80" stroke="#a5133a" stroke-width="1.0"/>
<line x1="239.10" y1="693.40" x2="242.70" y2="693.40" stroke="#a5133a" stroke-width="1.0"/>
<line x1="239.10" y1="700.80" x2="242.70" y2="700.80" stroke="#a5133a" stroke-width="1.0"/>
<line x1="250.34" y1="692.30" x2="250.34" y2="703.90" stroke="#a5133a" stroke-width="1.0"/>
<line x1="248.54" y1="692.30" x2="252.14" y2="692.30" stroke="#a5133a" stroke-width="1.0"/>
<line x1="248.54" y1="703.90" x2="252.14" y2="703.90" stroke="#a5133a" stroke-width="1.0"/>
<line x1="259.78" y1="689.80" x2="259.78" y2="700.80" stroke="#a5133a" stroke-width="1.0"/>
<line x1="257.98" y1="689.80" x2="261.58" y2="689.80" stroke="#a5133a" stroke-width="1.0"/>
<line x1="257.98" y1="700.80" x2="261.58" y2="700.80" stroke="#a5133a" stroke-width="1.0"/>
<line x1="269.22" y1="688.10" x2="269.22" y2="697.60" stroke="#a5133a" stroke-width="1.0"/>
<line x1="267.42" y1="688.10" x2="271.02" y2="688.10" stroke="#a5133a" stroke-width="1.0"/>
<line x1="267.42" y1="697.60" x2="271.02" y2="697.60" stroke="#a5133a" stroke-width="1.0"/>
<line x1="278.66" y1="683.80" x2="278.66" y2="695.50" stroke="#a5133a" stroke-width="1.0"/>
<line x1="276.86" y1="683.80" x2="280.46" y2="683.80" stroke="#a5133a" stroke-width="1.0"/>
<line x1="276.86" y1="695.50" x2="280.46" y2="695.50" stroke="#a5133a" stroke-width="1.0"/>
<line x1="297.54" y1="678.60" x2="297.54" y2="684.90" stroke="#a5133a" stroke-width="1.0"/>
<line x1="295.74" y1="678.60" x2="299.34" y2="678.60" stroke="#a5133a" stroke-width="1.0"/>
<line x1="295.74" y1="684.90" x2="299.34" y2="684.90" stroke="#a5133a" stroke-width="1.0"/>
<line x1="306.98" y1="679.60" x2="306.98" y2="684.90" stroke="#a5133a" stroke-width="1.0"/>
<line x1="305.18" y1="679.60" x2="308.78" y2="679.60" stroke="#a5133a" stroke-width="1.0"/>
<line x1="305.18" y1="684.90" x2="308.78" y2="684.90" stroke="#a5133a" stroke-width="1.0"/>
<line x1="325.86" y1="679.60" x2="325.86" y2="686.00" stroke="#a5133a" stroke-width="1.0"/>
<line x1="324.06" y1="679.60" x2="327.66" y2="679.60" stroke="#a5133a" stroke-width="1.0"/>
<line x1="324.06" y1="686.00" x2="327.66" y2="686.00" stroke="#a5133a" stroke-width="1.0"/>
<line x1="335.30" y1="673.70" x2="335.30" y2="688.10" stroke="#a5133a" stroke-width="1.0"/>
<line x1="333.50" y1="673.70" x2="337.10" y2="673.70" stroke="#a5133a" stroke-width="1.0"/>
<line x1="333.50" y1="688.10" x2="337.10" y2="688.10" stroke="#a5133a" stroke-width="1.0"/>
<path d="M240.90,696.99 C242.47,697.09 247.19,697.85 250.34,697.60 C253.49,697.35 256.63,696.21 259.78,695.50 C262.93,694.80 266.07,694.46 269.22,693.39 C272.37,692.33 275.51,690.70 278.66,689.10 C281.81,687.50 284.95,685.03 288.10,683.80 C291.25,682.57 294.39,681.97 297.54,681.71 C300.69,681.44 303.83,682.20 306.98,682.20 C310.13,682.20 313.27,681.61 316.42,681.71 C319.57,681.81 322.71,682.87 325.86,682.80 C329.01,682.73 333.73,681.54 335.30,681.29" fill="none" stroke="#a5133a" stroke-width="1.6"/>
<path d="M240.90,716.60 C242.47,716.60 247.19,716.70 250.34,716.60 C253.49,716.50 256.63,716.16 259.78,715.99 C262.93,715.83 266.07,716.20 269.22,715.60 C272.37,715.00 275.51,713.98 278.66,712.39 C281.81,710.81 284.95,707.86 288.10,706.10 C291.25,704.33 294.39,703.57 297.54,701.80 C300.69,700.04 303.83,697.09 306.98,695.50 C310.13,693.92 313.27,693.12 316.42,692.30 C319.57,691.48 322.71,691.02 325.86,690.60 C329.01,690.19 333.73,689.93 335.30,689.79" fill="none" stroke="#2c4676" stroke-width="1.6"/>
<circle cx="240.90" cy="696.99" r="2.70" fill="#a5133a"/>
<circle cx="250.34" cy="697.60" r="2.70" fill="#a5133a"/>
<circle cx="259.78" cy="695.50" r="2.70" fill="#a5133a"/>
<circle cx="269.22" cy="693.39" r="2.70" fill="#a5133a"/>
<circle cx="278.66" cy="689.10" r="2.70" fill="#a5133a"/>
<circle cx="288.10" cy="683.80" r="2.70" fill="#a5133a"/>
<circle cx="297.54" cy="681.71" r="2.70" fill="#a5133a"/>
<circle cx="306.98" cy="682.20" r="2.70" fill="#a5133a"/>
<circle cx="316.42" cy="681.71" r="2.70" fill="#a5133a"/>
<circle cx="325.86" cy="682.80" r="2.70" fill="#a5133a"/>
<circle cx="335.30" cy="681.29" r="2.70" fill="#a5133a"/>
<rect x="238.70" y="714.40" width="4.40" height="4.40" fill="#c9d3e3" stroke="#2c4676" stroke-width="1.2"/>
<rect x="248.14" y="714.40" width="4.40" height="4.40" fill="#c9d3e3" stroke="#2c4676" stroke-width="1.2"/>
<rect x="257.58" y="713.79" width="4.40" height="4.40" fill="#c9d3e3" stroke="#2c4676" stroke-width="1.2"/>
<rect x="267.02" y="713.40" width="4.40" height="4.40" fill="#c9d3e3" stroke="#2c4676" stroke-width="1.2"/>
<rect x="276.46" y="710.19" width="4.40" height="4.40" fill="#c9d3e3" stroke="#2c4676" stroke-width="1.2"/>
<rect x="285.90" y="703.90" width="4.40" height="4.40" fill="#c9d3e3" stroke="#2c4676" stroke-width="1.2"/>
<rect x="295.34" y="699.60" width="4.40" height="4.40" fill="#c9d3e3" stroke="#2c4676" stroke-width="1.2"/>
<rect x="304.78" y="693.31" width="4.40" height="4.40" fill="#c9d3e3" stroke="#2c4676" stroke-width="1.2"/>
<rect x="314.22" y="690.10" width="4.40" height="4.40" fill="#c9d3e3" stroke="#2c4676" stroke-width="1.2"/>
<rect x="323.66" y="688.40" width="4.40" height="4.40" fill="#c9d3e3" stroke="#2c4676" stroke-width="1.2"/>
<rect x="333.10" y="687.59" width="4.40" height="4.40" fill="#c9d3e3" stroke="#2c4676" stroke-width="1.2"/>
<line x1="241.40" y1="658.70" x2="251.30" y2="658.70" stroke="#a5133a" stroke-width="1.6"/>
<circle cx="246.35" cy="658.70" r="2.20" fill="#a5133a"/>
<text x="254.80" y="661.60" font-size="8.88" text-anchor="start" textLength="12.90" lengthAdjust="spacingAndGlyphs" fill="#231f20" >WT</text>
<line x1="241.40" y1="670.80" x2="251.30" y2="670.80" stroke="#2c4676" stroke-width="1.6"/>
<rect x="244.45" y="668.90" width="3.80" height="3.80" fill="#c9d3e3" stroke="#2c4676" stroke-width="1.2"/>
<text x="254.80" y="673.70" font-size="8.88" text-anchor="start" textLength="33.23" lengthAdjust="spacingAndGlyphs" fill="#231f20" >Patient A</text>
</svg></body></html>
